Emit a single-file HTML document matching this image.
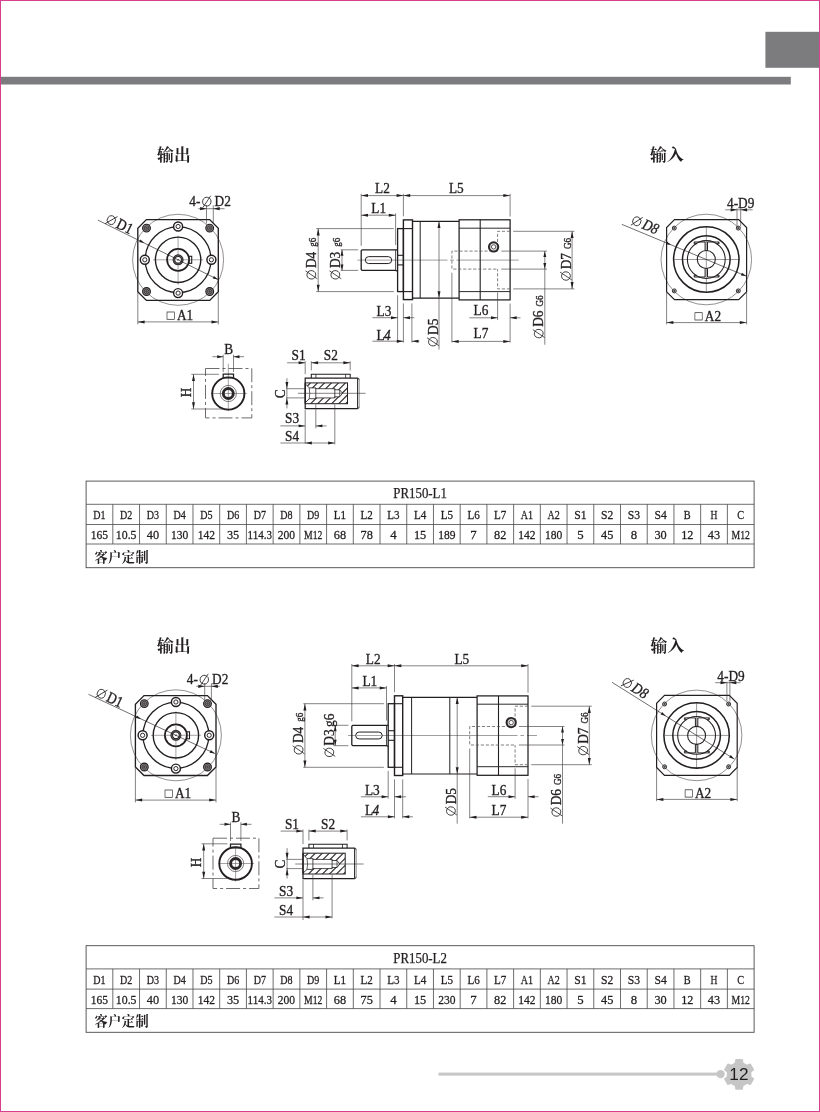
<!DOCTYPE html>
<html><head><meta charset="utf-8"><title>PR150</title>
<style>
html,body{margin:0;padding:0;background:#fff;}
body{width:820px;height:1112px;overflow:hidden;position:relative;font-family:"Liberation Sans",sans-serif;}
#frame{position:absolute;left:0;top:0;width:820px;height:1112px;box-sizing:border-box;border:1px solid #d7408d;}
svg{position:absolute;left:0;top:0;will-change:transform;}
text{white-space:pre;}
</style></head><body>
<svg width="820" height="1112" viewBox="0 0 820 1112">
<rect x="0" y="76.8" width="790.8" height="7.7" fill="#7c7c7f"/>
<rect x="765.4" y="31.8" width="54.6" height="36" fill="#7c7c7f"/>
<rect x="438.5" y="1072.6" width="282" height="3" fill="#c6c6c6"/>
<circle cx="720.6" cy="1074.1" r="4.2" fill="#c6c6c6"/>
<path d="M735.45 1063.08L735.98 1059.63L742.22 1059.63L742.75 1063.08L747 1065.53L750.25 1064.26L753.37 1069.66L750.64 1071.85L750.64 1076.75L753.37 1078.94L750.25 1084.34L747 1083.07L742.75 1085.52L742.22 1088.97L735.98 1088.97L735.45 1085.52L731.2 1083.07L727.95 1084.34L724.83 1078.94L727.56 1076.75L727.56 1071.85L724.83 1069.66L727.95 1064.26L731.2 1065.53Z" fill="#c6c6c6" stroke="#c6c6c6" stroke-width="1.5" stroke-linejoin="round"/>
<text x="738.9" y="1080.3" text-anchor="middle" font-family="Liberation Sans" font-size="17.2" fill="#231f20">12</text>
<rect x="86.1" y="481.1" width="668" height="86.6" fill="none" stroke="#4a4748" stroke-width="0.9"/>
<line x1="86.1" y1="504.3" x2="754.1" y2="504.3" stroke="#4a4748" stroke-width="0.8"/>
<line x1="86.1" y1="524.5" x2="754.1" y2="524.5" stroke="#4a4748" stroke-width="0.8"/>
<line x1="86.1" y1="544" x2="754.1" y2="544" stroke="#4a4748" stroke-width="0.8"/>
<line x1="112.82" y1="504.3" x2="112.82" y2="544" stroke="#4a4748" stroke-width="0.8"/>
<line x1="139.54" y1="504.3" x2="139.54" y2="544" stroke="#4a4748" stroke-width="0.8"/>
<line x1="166.26" y1="504.3" x2="166.26" y2="544" stroke="#4a4748" stroke-width="0.8"/>
<line x1="192.98" y1="504.3" x2="192.98" y2="544" stroke="#4a4748" stroke-width="0.8"/>
<line x1="219.7" y1="504.3" x2="219.7" y2="544" stroke="#4a4748" stroke-width="0.8"/>
<line x1="246.42" y1="504.3" x2="246.42" y2="544" stroke="#4a4748" stroke-width="0.8"/>
<line x1="273.14" y1="504.3" x2="273.14" y2="544" stroke="#4a4748" stroke-width="0.8"/>
<line x1="299.86" y1="504.3" x2="299.86" y2="544" stroke="#4a4748" stroke-width="0.8"/>
<line x1="326.58" y1="504.3" x2="326.58" y2="544" stroke="#4a4748" stroke-width="0.8"/>
<line x1="353.3" y1="504.3" x2="353.3" y2="544" stroke="#4a4748" stroke-width="0.8"/>
<line x1="380.02" y1="504.3" x2="380.02" y2="544" stroke="#4a4748" stroke-width="0.8"/>
<line x1="406.74" y1="504.3" x2="406.74" y2="544" stroke="#4a4748" stroke-width="0.8"/>
<line x1="433.46" y1="504.3" x2="433.46" y2="544" stroke="#4a4748" stroke-width="0.8"/>
<line x1="460.18" y1="504.3" x2="460.18" y2="544" stroke="#4a4748" stroke-width="0.8"/>
<line x1="486.9" y1="504.3" x2="486.9" y2="544" stroke="#4a4748" stroke-width="0.8"/>
<line x1="513.62" y1="504.3" x2="513.62" y2="544" stroke="#4a4748" stroke-width="0.8"/>
<line x1="540.34" y1="504.3" x2="540.34" y2="544" stroke="#4a4748" stroke-width="0.8"/>
<line x1="567.06" y1="504.3" x2="567.06" y2="544" stroke="#4a4748" stroke-width="0.8"/>
<line x1="593.78" y1="504.3" x2="593.78" y2="544" stroke="#4a4748" stroke-width="0.8"/>
<line x1="620.5" y1="504.3" x2="620.5" y2="544" stroke="#4a4748" stroke-width="0.8"/>
<line x1="647.22" y1="504.3" x2="647.22" y2="544" stroke="#4a4748" stroke-width="0.8"/>
<line x1="673.94" y1="504.3" x2="673.94" y2="544" stroke="#4a4748" stroke-width="0.8"/>
<line x1="700.66" y1="504.3" x2="700.66" y2="544" stroke="#4a4748" stroke-width="0.8"/>
<line x1="727.38" y1="504.3" x2="727.38" y2="544" stroke="#4a4748" stroke-width="0.8"/>
<text x="420.1" y="498" text-anchor="middle" font-family="Liberation Serif" font-size="14" textLength="53.6" lengthAdjust="spacingAndGlyphs" fill="#231f20" stroke="#231f20" stroke-width="0.25">PR150-L1</text>
<text x="99.46" y="518.9" text-anchor="middle" font-family="Liberation Serif" font-size="12.8" textLength="12.3" lengthAdjust="spacingAndGlyphs" fill="#231f20" stroke="#231f20" stroke-width="0.28">D1</text>
<text x="99.46" y="539.1" text-anchor="middle" font-family="Liberation Serif" font-size="12.8" textLength="17.3" lengthAdjust="spacingAndGlyphs" fill="#231f20" stroke="#231f20" stroke-width="0.28">165</text>
<text x="126.18" y="518.9" text-anchor="middle" font-family="Liberation Serif" font-size="12.8" textLength="12.3" lengthAdjust="spacingAndGlyphs" fill="#231f20" stroke="#231f20" stroke-width="0.28">D2</text>
<text x="126.18" y="539.1" text-anchor="middle" font-family="Liberation Serif" font-size="12.8" textLength="20.7" lengthAdjust="spacingAndGlyphs" fill="#231f20" stroke="#231f20" stroke-width="0.28">10.5</text>
<text x="152.9" y="518.9" text-anchor="middle" font-family="Liberation Serif" font-size="12.8" textLength="12.3" lengthAdjust="spacingAndGlyphs" fill="#231f20" stroke="#231f20" stroke-width="0.28">D3</text>
<text x="152.9" y="539.1" text-anchor="middle" font-family="Liberation Serif" font-size="12.8" textLength="12.3" lengthAdjust="spacingAndGlyphs" fill="#231f20" stroke="#231f20" stroke-width="0.28">40</text>
<text x="179.62" y="518.9" text-anchor="middle" font-family="Liberation Serif" font-size="12.8" textLength="12.3" lengthAdjust="spacingAndGlyphs" fill="#231f20" stroke="#231f20" stroke-width="0.28">D4</text>
<text x="179.62" y="539.1" text-anchor="middle" font-family="Liberation Serif" font-size="12.8" textLength="17.3" lengthAdjust="spacingAndGlyphs" fill="#231f20" stroke="#231f20" stroke-width="0.28">130</text>
<text x="206.34" y="518.9" text-anchor="middle" font-family="Liberation Serif" font-size="12.8" textLength="12.3" lengthAdjust="spacingAndGlyphs" fill="#231f20" stroke="#231f20" stroke-width="0.28">D5</text>
<text x="206.34" y="539.1" text-anchor="middle" font-family="Liberation Serif" font-size="12.8" textLength="17.3" lengthAdjust="spacingAndGlyphs" fill="#231f20" stroke="#231f20" stroke-width="0.28">142</text>
<text x="233.06" y="518.9" text-anchor="middle" font-family="Liberation Serif" font-size="12.8" textLength="12.3" lengthAdjust="spacingAndGlyphs" fill="#231f20" stroke="#231f20" stroke-width="0.28">D6</text>
<text x="233.06" y="539.1" text-anchor="middle" font-family="Liberation Serif" font-size="12.8" textLength="12.3" lengthAdjust="spacingAndGlyphs" fill="#231f20" stroke="#231f20" stroke-width="0.28">35</text>
<text x="259.78" y="518.9" text-anchor="middle" font-family="Liberation Serif" font-size="12.8" textLength="12.3" lengthAdjust="spacingAndGlyphs" fill="#231f20" stroke="#231f20" stroke-width="0.28">D7</text>
<text x="259.78" y="539.1" text-anchor="middle" font-family="Liberation Serif" font-size="12.8" textLength="24.4" lengthAdjust="spacingAndGlyphs" fill="#231f20" stroke="#231f20" stroke-width="0.28">114.3</text>
<text x="286.5" y="518.9" text-anchor="middle" font-family="Liberation Serif" font-size="12.8" textLength="12.3" lengthAdjust="spacingAndGlyphs" fill="#231f20" stroke="#231f20" stroke-width="0.28">D8</text>
<text x="286.5" y="539.1" text-anchor="middle" font-family="Liberation Serif" font-size="12.8" textLength="17.3" lengthAdjust="spacingAndGlyphs" fill="#231f20" stroke="#231f20" stroke-width="0.28">200</text>
<text x="313.22" y="518.9" text-anchor="middle" font-family="Liberation Serif" font-size="12.8" textLength="12.3" lengthAdjust="spacingAndGlyphs" fill="#231f20" stroke="#231f20" stroke-width="0.28">D9</text>
<text x="313.22" y="539.1" text-anchor="middle" font-family="Liberation Serif" font-size="12.8" textLength="18.4" lengthAdjust="spacingAndGlyphs" fill="#231f20" stroke="#231f20" stroke-width="0.28">M12</text>
<text x="339.94" y="518.9" text-anchor="middle" font-family="Liberation Serif" font-size="12.8" textLength="12.3" lengthAdjust="spacingAndGlyphs" fill="#231f20" stroke="#231f20" stroke-width="0.28">L1</text>
<text x="339.94" y="539.1" text-anchor="middle" font-family="Liberation Serif" font-size="12.8" textLength="12.3" lengthAdjust="spacingAndGlyphs" fill="#231f20" stroke="#231f20" stroke-width="0.28">68</text>
<text x="366.66" y="518.9" text-anchor="middle" font-family="Liberation Serif" font-size="12.8" textLength="12.3" lengthAdjust="spacingAndGlyphs" fill="#231f20" stroke="#231f20" stroke-width="0.28">L2</text>
<text x="366.66" y="539.1" text-anchor="middle" font-family="Liberation Serif" font-size="12.8" textLength="12.3" lengthAdjust="spacingAndGlyphs" fill="#231f20" stroke="#231f20" stroke-width="0.28">78</text>
<text x="393.38" y="518.9" text-anchor="middle" font-family="Liberation Serif" font-size="12.8" textLength="12.3" lengthAdjust="spacingAndGlyphs" fill="#231f20" stroke="#231f20" stroke-width="0.28">L3</text>
<text x="393.38" y="539.1" text-anchor="middle" font-family="Liberation Serif" font-size="12.8" fill="#231f20" stroke="#231f20" stroke-width="0.28">4</text>
<text x="420.1" y="518.9" text-anchor="middle" font-family="Liberation Serif" font-size="12.8" textLength="12.3" lengthAdjust="spacingAndGlyphs" fill="#231f20" stroke="#231f20" stroke-width="0.28">L4</text>
<text x="420.1" y="539.1" text-anchor="middle" font-family="Liberation Serif" font-size="12.8" textLength="12.3" lengthAdjust="spacingAndGlyphs" fill="#231f20" stroke="#231f20" stroke-width="0.28">15</text>
<text x="446.82" y="518.9" text-anchor="middle" font-family="Liberation Serif" font-size="12.8" textLength="12.3" lengthAdjust="spacingAndGlyphs" fill="#231f20" stroke="#231f20" stroke-width="0.28">L5</text>
<text x="446.82" y="539.1" text-anchor="middle" font-family="Liberation Serif" font-size="12.8" textLength="17.3" lengthAdjust="spacingAndGlyphs" fill="#231f20" stroke="#231f20" stroke-width="0.28">189</text>
<text x="473.54" y="518.9" text-anchor="middle" font-family="Liberation Serif" font-size="12.8" textLength="12.3" lengthAdjust="spacingAndGlyphs" fill="#231f20" stroke="#231f20" stroke-width="0.28">L6</text>
<text x="473.54" y="539.1" text-anchor="middle" font-family="Liberation Serif" font-size="12.8" fill="#231f20" stroke="#231f20" stroke-width="0.28">7</text>
<text x="500.26" y="518.9" text-anchor="middle" font-family="Liberation Serif" font-size="12.8" textLength="12.3" lengthAdjust="spacingAndGlyphs" fill="#231f20" stroke="#231f20" stroke-width="0.28">L7</text>
<text x="500.26" y="539.1" text-anchor="middle" font-family="Liberation Serif" font-size="12.8" textLength="12.3" lengthAdjust="spacingAndGlyphs" fill="#231f20" stroke="#231f20" stroke-width="0.28">82</text>
<text x="526.98" y="518.9" text-anchor="middle" font-family="Liberation Serif" font-size="12.8" textLength="12.3" lengthAdjust="spacingAndGlyphs" fill="#231f20" stroke="#231f20" stroke-width="0.28">A1</text>
<text x="526.98" y="539.1" text-anchor="middle" font-family="Liberation Serif" font-size="12.8" textLength="17.3" lengthAdjust="spacingAndGlyphs" fill="#231f20" stroke="#231f20" stroke-width="0.28">142</text>
<text x="553.7" y="518.9" text-anchor="middle" font-family="Liberation Serif" font-size="12.8" textLength="12.3" lengthAdjust="spacingAndGlyphs" fill="#231f20" stroke="#231f20" stroke-width="0.28">A2</text>
<text x="553.7" y="539.1" text-anchor="middle" font-family="Liberation Serif" font-size="12.8" textLength="17.3" lengthAdjust="spacingAndGlyphs" fill="#231f20" stroke="#231f20" stroke-width="0.28">180</text>
<text x="580.42" y="518.9" text-anchor="middle" font-family="Liberation Serif" font-size="12.8" textLength="12.3" lengthAdjust="spacingAndGlyphs" fill="#231f20" stroke="#231f20" stroke-width="0.28">S1</text>
<text x="580.42" y="539.1" text-anchor="middle" font-family="Liberation Serif" font-size="12.8" fill="#231f20" stroke="#231f20" stroke-width="0.28">5</text>
<text x="607.14" y="518.9" text-anchor="middle" font-family="Liberation Serif" font-size="12.8" textLength="12.3" lengthAdjust="spacingAndGlyphs" fill="#231f20" stroke="#231f20" stroke-width="0.28">S2</text>
<text x="607.14" y="539.1" text-anchor="middle" font-family="Liberation Serif" font-size="12.8" textLength="12.3" lengthAdjust="spacingAndGlyphs" fill="#231f20" stroke="#231f20" stroke-width="0.28">45</text>
<text x="633.86" y="518.9" text-anchor="middle" font-family="Liberation Serif" font-size="12.8" textLength="12.3" lengthAdjust="spacingAndGlyphs" fill="#231f20" stroke="#231f20" stroke-width="0.28">S3</text>
<text x="633.86" y="539.1" text-anchor="middle" font-family="Liberation Serif" font-size="12.8" fill="#231f20" stroke="#231f20" stroke-width="0.28">8</text>
<text x="660.58" y="518.9" text-anchor="middle" font-family="Liberation Serif" font-size="12.8" textLength="12.3" lengthAdjust="spacingAndGlyphs" fill="#231f20" stroke="#231f20" stroke-width="0.28">S4</text>
<text x="660.58" y="539.1" text-anchor="middle" font-family="Liberation Serif" font-size="12.8" textLength="12.3" lengthAdjust="spacingAndGlyphs" fill="#231f20" stroke="#231f20" stroke-width="0.28">30</text>
<text x="687.3" y="518.9" text-anchor="middle" font-family="Liberation Serif" font-size="12.8" textLength="6.9" lengthAdjust="spacingAndGlyphs" fill="#231f20" stroke="#231f20" stroke-width="0.28">B</text>
<text x="687.3" y="539.1" text-anchor="middle" font-family="Liberation Serif" font-size="12.8" textLength="12.3" lengthAdjust="spacingAndGlyphs" fill="#231f20" stroke="#231f20" stroke-width="0.28">12</text>
<text x="714.02" y="518.9" text-anchor="middle" font-family="Liberation Serif" font-size="12.8" textLength="6.9" lengthAdjust="spacingAndGlyphs" fill="#231f20" stroke="#231f20" stroke-width="0.28">H</text>
<text x="714.02" y="539.1" text-anchor="middle" font-family="Liberation Serif" font-size="12.8" textLength="12.3" lengthAdjust="spacingAndGlyphs" fill="#231f20" stroke="#231f20" stroke-width="0.28">43</text>
<text x="740.74" y="518.9" text-anchor="middle" font-family="Liberation Serif" font-size="12.8" textLength="6.9" lengthAdjust="spacingAndGlyphs" fill="#231f20" stroke="#231f20" stroke-width="0.28">C</text>
<text x="740.74" y="539.1" text-anchor="middle" font-family="Liberation Serif" font-size="12.8" textLength="18.4" lengthAdjust="spacingAndGlyphs" fill="#231f20" stroke="#231f20" stroke-width="0.28">M12</text>
<text x="94.4" y="561.6" font-family="'Liberation Serif','Noto Serif CJK SC',serif" font-size="13.2" font-weight="bold" letter-spacing="0.5" fill="#231f20">客户定制</text>
<rect x="86.1" y="945.7" width="668" height="86.6" fill="none" stroke="#4a4748" stroke-width="0.9"/>
<line x1="86.1" y1="968.9" x2="754.1" y2="968.9" stroke="#4a4748" stroke-width="0.8"/>
<line x1="86.1" y1="989.1" x2="754.1" y2="989.1" stroke="#4a4748" stroke-width="0.8"/>
<line x1="86.1" y1="1008.6" x2="754.1" y2="1008.6" stroke="#4a4748" stroke-width="0.8"/>
<line x1="112.82" y1="968.9" x2="112.82" y2="1008.6" stroke="#4a4748" stroke-width="0.8"/>
<line x1="139.54" y1="968.9" x2="139.54" y2="1008.6" stroke="#4a4748" stroke-width="0.8"/>
<line x1="166.26" y1="968.9" x2="166.26" y2="1008.6" stroke="#4a4748" stroke-width="0.8"/>
<line x1="192.98" y1="968.9" x2="192.98" y2="1008.6" stroke="#4a4748" stroke-width="0.8"/>
<line x1="219.7" y1="968.9" x2="219.7" y2="1008.6" stroke="#4a4748" stroke-width="0.8"/>
<line x1="246.42" y1="968.9" x2="246.42" y2="1008.6" stroke="#4a4748" stroke-width="0.8"/>
<line x1="273.14" y1="968.9" x2="273.14" y2="1008.6" stroke="#4a4748" stroke-width="0.8"/>
<line x1="299.86" y1="968.9" x2="299.86" y2="1008.6" stroke="#4a4748" stroke-width="0.8"/>
<line x1="326.58" y1="968.9" x2="326.58" y2="1008.6" stroke="#4a4748" stroke-width="0.8"/>
<line x1="353.3" y1="968.9" x2="353.3" y2="1008.6" stroke="#4a4748" stroke-width="0.8"/>
<line x1="380.02" y1="968.9" x2="380.02" y2="1008.6" stroke="#4a4748" stroke-width="0.8"/>
<line x1="406.74" y1="968.9" x2="406.74" y2="1008.6" stroke="#4a4748" stroke-width="0.8"/>
<line x1="433.46" y1="968.9" x2="433.46" y2="1008.6" stroke="#4a4748" stroke-width="0.8"/>
<line x1="460.18" y1="968.9" x2="460.18" y2="1008.6" stroke="#4a4748" stroke-width="0.8"/>
<line x1="486.9" y1="968.9" x2="486.9" y2="1008.6" stroke="#4a4748" stroke-width="0.8"/>
<line x1="513.62" y1="968.9" x2="513.62" y2="1008.6" stroke="#4a4748" stroke-width="0.8"/>
<line x1="540.34" y1="968.9" x2="540.34" y2="1008.6" stroke="#4a4748" stroke-width="0.8"/>
<line x1="567.06" y1="968.9" x2="567.06" y2="1008.6" stroke="#4a4748" stroke-width="0.8"/>
<line x1="593.78" y1="968.9" x2="593.78" y2="1008.6" stroke="#4a4748" stroke-width="0.8"/>
<line x1="620.5" y1="968.9" x2="620.5" y2="1008.6" stroke="#4a4748" stroke-width="0.8"/>
<line x1="647.22" y1="968.9" x2="647.22" y2="1008.6" stroke="#4a4748" stroke-width="0.8"/>
<line x1="673.94" y1="968.9" x2="673.94" y2="1008.6" stroke="#4a4748" stroke-width="0.8"/>
<line x1="700.66" y1="968.9" x2="700.66" y2="1008.6" stroke="#4a4748" stroke-width="0.8"/>
<line x1="727.38" y1="968.9" x2="727.38" y2="1008.6" stroke="#4a4748" stroke-width="0.8"/>
<text x="420.1" y="962.6" text-anchor="middle" font-family="Liberation Serif" font-size="14" textLength="53.6" lengthAdjust="spacingAndGlyphs" fill="#231f20" stroke="#231f20" stroke-width="0.25">PR150-L2</text>
<text x="99.46" y="983.5" text-anchor="middle" font-family="Liberation Serif" font-size="12.8" textLength="12.3" lengthAdjust="spacingAndGlyphs" fill="#231f20" stroke="#231f20" stroke-width="0.28">D1</text>
<text x="99.46" y="1003.7" text-anchor="middle" font-family="Liberation Serif" font-size="12.8" textLength="17.3" lengthAdjust="spacingAndGlyphs" fill="#231f20" stroke="#231f20" stroke-width="0.28">165</text>
<text x="126.18" y="983.5" text-anchor="middle" font-family="Liberation Serif" font-size="12.8" textLength="12.3" lengthAdjust="spacingAndGlyphs" fill="#231f20" stroke="#231f20" stroke-width="0.28">D2</text>
<text x="126.18" y="1003.7" text-anchor="middle" font-family="Liberation Serif" font-size="12.8" textLength="20.7" lengthAdjust="spacingAndGlyphs" fill="#231f20" stroke="#231f20" stroke-width="0.28">10.5</text>
<text x="152.9" y="983.5" text-anchor="middle" font-family="Liberation Serif" font-size="12.8" textLength="12.3" lengthAdjust="spacingAndGlyphs" fill="#231f20" stroke="#231f20" stroke-width="0.28">D3</text>
<text x="152.9" y="1003.7" text-anchor="middle" font-family="Liberation Serif" font-size="12.8" textLength="12.3" lengthAdjust="spacingAndGlyphs" fill="#231f20" stroke="#231f20" stroke-width="0.28">40</text>
<text x="179.62" y="983.5" text-anchor="middle" font-family="Liberation Serif" font-size="12.8" textLength="12.3" lengthAdjust="spacingAndGlyphs" fill="#231f20" stroke="#231f20" stroke-width="0.28">D4</text>
<text x="179.62" y="1003.7" text-anchor="middle" font-family="Liberation Serif" font-size="12.8" textLength="17.3" lengthAdjust="spacingAndGlyphs" fill="#231f20" stroke="#231f20" stroke-width="0.28">130</text>
<text x="206.34" y="983.5" text-anchor="middle" font-family="Liberation Serif" font-size="12.8" textLength="12.3" lengthAdjust="spacingAndGlyphs" fill="#231f20" stroke="#231f20" stroke-width="0.28">D5</text>
<text x="206.34" y="1003.7" text-anchor="middle" font-family="Liberation Serif" font-size="12.8" textLength="17.3" lengthAdjust="spacingAndGlyphs" fill="#231f20" stroke="#231f20" stroke-width="0.28">142</text>
<text x="233.06" y="983.5" text-anchor="middle" font-family="Liberation Serif" font-size="12.8" textLength="12.3" lengthAdjust="spacingAndGlyphs" fill="#231f20" stroke="#231f20" stroke-width="0.28">D6</text>
<text x="233.06" y="1003.7" text-anchor="middle" font-family="Liberation Serif" font-size="12.8" textLength="12.3" lengthAdjust="spacingAndGlyphs" fill="#231f20" stroke="#231f20" stroke-width="0.28">35</text>
<text x="259.78" y="983.5" text-anchor="middle" font-family="Liberation Serif" font-size="12.8" textLength="12.3" lengthAdjust="spacingAndGlyphs" fill="#231f20" stroke="#231f20" stroke-width="0.28">D7</text>
<text x="259.78" y="1003.7" text-anchor="middle" font-family="Liberation Serif" font-size="12.8" textLength="24.4" lengthAdjust="spacingAndGlyphs" fill="#231f20" stroke="#231f20" stroke-width="0.28">114.3</text>
<text x="286.5" y="983.5" text-anchor="middle" font-family="Liberation Serif" font-size="12.8" textLength="12.3" lengthAdjust="spacingAndGlyphs" fill="#231f20" stroke="#231f20" stroke-width="0.28">D8</text>
<text x="286.5" y="1003.7" text-anchor="middle" font-family="Liberation Serif" font-size="12.8" textLength="17.3" lengthAdjust="spacingAndGlyphs" fill="#231f20" stroke="#231f20" stroke-width="0.28">200</text>
<text x="313.22" y="983.5" text-anchor="middle" font-family="Liberation Serif" font-size="12.8" textLength="12.3" lengthAdjust="spacingAndGlyphs" fill="#231f20" stroke="#231f20" stroke-width="0.28">D9</text>
<text x="313.22" y="1003.7" text-anchor="middle" font-family="Liberation Serif" font-size="12.8" textLength="18.4" lengthAdjust="spacingAndGlyphs" fill="#231f20" stroke="#231f20" stroke-width="0.28">M12</text>
<text x="339.94" y="983.5" text-anchor="middle" font-family="Liberation Serif" font-size="12.8" textLength="12.3" lengthAdjust="spacingAndGlyphs" fill="#231f20" stroke="#231f20" stroke-width="0.28">L1</text>
<text x="339.94" y="1003.7" text-anchor="middle" font-family="Liberation Serif" font-size="12.8" textLength="12.3" lengthAdjust="spacingAndGlyphs" fill="#231f20" stroke="#231f20" stroke-width="0.28">68</text>
<text x="366.66" y="983.5" text-anchor="middle" font-family="Liberation Serif" font-size="12.8" textLength="12.3" lengthAdjust="spacingAndGlyphs" fill="#231f20" stroke="#231f20" stroke-width="0.28">L2</text>
<text x="366.66" y="1003.7" text-anchor="middle" font-family="Liberation Serif" font-size="12.8" textLength="12.3" lengthAdjust="spacingAndGlyphs" fill="#231f20" stroke="#231f20" stroke-width="0.28">75</text>
<text x="393.38" y="983.5" text-anchor="middle" font-family="Liberation Serif" font-size="12.8" textLength="12.3" lengthAdjust="spacingAndGlyphs" fill="#231f20" stroke="#231f20" stroke-width="0.28">L3</text>
<text x="393.38" y="1003.7" text-anchor="middle" font-family="Liberation Serif" font-size="12.8" fill="#231f20" stroke="#231f20" stroke-width="0.28">4</text>
<text x="420.1" y="983.5" text-anchor="middle" font-family="Liberation Serif" font-size="12.8" textLength="12.3" lengthAdjust="spacingAndGlyphs" fill="#231f20" stroke="#231f20" stroke-width="0.28">L4</text>
<text x="420.1" y="1003.7" text-anchor="middle" font-family="Liberation Serif" font-size="12.8" textLength="12.3" lengthAdjust="spacingAndGlyphs" fill="#231f20" stroke="#231f20" stroke-width="0.28">15</text>
<text x="446.82" y="983.5" text-anchor="middle" font-family="Liberation Serif" font-size="12.8" textLength="12.3" lengthAdjust="spacingAndGlyphs" fill="#231f20" stroke="#231f20" stroke-width="0.28">L5</text>
<text x="446.82" y="1003.7" text-anchor="middle" font-family="Liberation Serif" font-size="12.8" textLength="17.3" lengthAdjust="spacingAndGlyphs" fill="#231f20" stroke="#231f20" stroke-width="0.28">230</text>
<text x="473.54" y="983.5" text-anchor="middle" font-family="Liberation Serif" font-size="12.8" textLength="12.3" lengthAdjust="spacingAndGlyphs" fill="#231f20" stroke="#231f20" stroke-width="0.28">L6</text>
<text x="473.54" y="1003.7" text-anchor="middle" font-family="Liberation Serif" font-size="12.8" fill="#231f20" stroke="#231f20" stroke-width="0.28">7</text>
<text x="500.26" y="983.5" text-anchor="middle" font-family="Liberation Serif" font-size="12.8" textLength="12.3" lengthAdjust="spacingAndGlyphs" fill="#231f20" stroke="#231f20" stroke-width="0.28">L7</text>
<text x="500.26" y="1003.7" text-anchor="middle" font-family="Liberation Serif" font-size="12.8" textLength="12.3" lengthAdjust="spacingAndGlyphs" fill="#231f20" stroke="#231f20" stroke-width="0.28">82</text>
<text x="526.98" y="983.5" text-anchor="middle" font-family="Liberation Serif" font-size="12.8" textLength="12.3" lengthAdjust="spacingAndGlyphs" fill="#231f20" stroke="#231f20" stroke-width="0.28">A1</text>
<text x="526.98" y="1003.7" text-anchor="middle" font-family="Liberation Serif" font-size="12.8" textLength="17.3" lengthAdjust="spacingAndGlyphs" fill="#231f20" stroke="#231f20" stroke-width="0.28">142</text>
<text x="553.7" y="983.5" text-anchor="middle" font-family="Liberation Serif" font-size="12.8" textLength="12.3" lengthAdjust="spacingAndGlyphs" fill="#231f20" stroke="#231f20" stroke-width="0.28">A2</text>
<text x="553.7" y="1003.7" text-anchor="middle" font-family="Liberation Serif" font-size="12.8" textLength="17.3" lengthAdjust="spacingAndGlyphs" fill="#231f20" stroke="#231f20" stroke-width="0.28">180</text>
<text x="580.42" y="983.5" text-anchor="middle" font-family="Liberation Serif" font-size="12.8" textLength="12.3" lengthAdjust="spacingAndGlyphs" fill="#231f20" stroke="#231f20" stroke-width="0.28">S1</text>
<text x="580.42" y="1003.7" text-anchor="middle" font-family="Liberation Serif" font-size="12.8" fill="#231f20" stroke="#231f20" stroke-width="0.28">5</text>
<text x="607.14" y="983.5" text-anchor="middle" font-family="Liberation Serif" font-size="12.8" textLength="12.3" lengthAdjust="spacingAndGlyphs" fill="#231f20" stroke="#231f20" stroke-width="0.28">S2</text>
<text x="607.14" y="1003.7" text-anchor="middle" font-family="Liberation Serif" font-size="12.8" textLength="12.3" lengthAdjust="spacingAndGlyphs" fill="#231f20" stroke="#231f20" stroke-width="0.28">45</text>
<text x="633.86" y="983.5" text-anchor="middle" font-family="Liberation Serif" font-size="12.8" textLength="12.3" lengthAdjust="spacingAndGlyphs" fill="#231f20" stroke="#231f20" stroke-width="0.28">S3</text>
<text x="633.86" y="1003.7" text-anchor="middle" font-family="Liberation Serif" font-size="12.8" fill="#231f20" stroke="#231f20" stroke-width="0.28">8</text>
<text x="660.58" y="983.5" text-anchor="middle" font-family="Liberation Serif" font-size="12.8" textLength="12.3" lengthAdjust="spacingAndGlyphs" fill="#231f20" stroke="#231f20" stroke-width="0.28">S4</text>
<text x="660.58" y="1003.7" text-anchor="middle" font-family="Liberation Serif" font-size="12.8" textLength="12.3" lengthAdjust="spacingAndGlyphs" fill="#231f20" stroke="#231f20" stroke-width="0.28">30</text>
<text x="687.3" y="983.5" text-anchor="middle" font-family="Liberation Serif" font-size="12.8" textLength="6.9" lengthAdjust="spacingAndGlyphs" fill="#231f20" stroke="#231f20" stroke-width="0.28">B</text>
<text x="687.3" y="1003.7" text-anchor="middle" font-family="Liberation Serif" font-size="12.8" textLength="12.3" lengthAdjust="spacingAndGlyphs" fill="#231f20" stroke="#231f20" stroke-width="0.28">12</text>
<text x="714.02" y="983.5" text-anchor="middle" font-family="Liberation Serif" font-size="12.8" textLength="6.9" lengthAdjust="spacingAndGlyphs" fill="#231f20" stroke="#231f20" stroke-width="0.28">H</text>
<text x="714.02" y="1003.7" text-anchor="middle" font-family="Liberation Serif" font-size="12.8" textLength="12.3" lengthAdjust="spacingAndGlyphs" fill="#231f20" stroke="#231f20" stroke-width="0.28">43</text>
<text x="740.74" y="983.5" text-anchor="middle" font-family="Liberation Serif" font-size="12.8" textLength="6.9" lengthAdjust="spacingAndGlyphs" fill="#231f20" stroke="#231f20" stroke-width="0.28">C</text>
<text x="740.74" y="1003.7" text-anchor="middle" font-family="Liberation Serif" font-size="12.8" textLength="18.4" lengthAdjust="spacingAndGlyphs" fill="#231f20" stroke="#231f20" stroke-width="0.28">M12</text>
<text x="94.4" y="1026.2" font-family="'Liberation Serif','Noto Serif CJK SC',serif" font-size="13.2" font-weight="bold" letter-spacing="0.5" fill="#231f20">客户定制</text>
<text x="157" y="160.6" font-family="'Liberation Serif','Noto Serif CJK SC',serif" font-size="16.8" font-weight="bold" letter-spacing="0.2" fill="#231f20">输出</text>
<text x="157" y="652.2" font-family="'Liberation Serif','Noto Serif CJK SC',serif" font-size="16.8" font-weight="bold" letter-spacing="0.2" fill="#231f20">输出</text>
<text x="650" y="160.6" font-family="'Liberation Serif','Noto Serif CJK SC',serif" font-size="16.8" font-weight="bold" letter-spacing="0.2" fill="#231f20">输入</text>
<text x="650.6" y="652.2" font-family="'Liberation Serif','Noto Serif CJK SC',serif" font-size="16.8" font-weight="bold" letter-spacing="0.2" fill="#231f20">输入</text>
<circle cx="178.1" cy="259.8" r="45.5" fill="none" stroke="#4a4647" stroke-width="0.6"/>
<path d="M146.4 219.6L209.7 219.6L218.3 228.2L218.3 291.8L209.7 300.4L146.4 300.4L137.8 291.8L137.8 228.2Z" fill="none" stroke="#231f20" stroke-width="1.35" />
<line x1="153.1" y1="259.8" x2="203.1" y2="259.8" stroke="#9c999a" stroke-width="0.9"/>
<line x1="178.1" y1="235.8" x2="178.1" y2="284.8" stroke="#9c999a" stroke-width="0.9"/>
<circle cx="178.1" cy="259.8" r="32.9" fill="none" stroke="#231f20" stroke-width="1.3"/>
<circle cx="178.1" cy="259.8" r="22.7" fill="none" stroke="#231f20" stroke-width="1.4"/>
<rect x="188.7" y="256.3" width="3" height="7" fill="none" stroke="#231f20" stroke-width="1.1"/>
<circle cx="178.1" cy="259.8" r="11" fill="#fff" stroke="#231f20" stroke-width="1.75"/>
<line x1="168.1" y1="259.8" x2="188.1" y2="259.8" stroke="#9c999a" stroke-width="0.9"/>
<line x1="178.1" y1="249.8" x2="178.1" y2="269.8" stroke="#9c999a" stroke-width="0.9"/>
<circle cx="178.1" cy="259.8" r="4.15" fill="#fff" stroke="#2b2728" stroke-width="2.7"/>
<circle cx="178.1" cy="259.8" r="4.2" fill="none" stroke="#8a8687" stroke-width="0.5"/>
<line x1="176.9" y1="260.3" x2="179.3" y2="259.3" stroke="#231f20" stroke-width="0.7"/>
<circle cx="178.1" cy="226.5" r="4.5" fill="#fff" stroke="#231f20" stroke-width="1.45"/>
<circle cx="178.1" cy="226.5" r="2.1" fill="#fff" stroke="#231f20" stroke-width="0.95"/>
<circle cx="178.1" cy="293.1" r="4.5" fill="#fff" stroke="#231f20" stroke-width="1.45"/>
<circle cx="178.1" cy="293.1" r="2.1" fill="#fff" stroke="#231f20" stroke-width="0.95"/>
<circle cx="144.8" cy="259.8" r="4.5" fill="#fff" stroke="#231f20" stroke-width="1.45"/>
<circle cx="144.8" cy="259.8" r="2.1" fill="#fff" stroke="#231f20" stroke-width="0.95"/>
<circle cx="211.4" cy="259.8" r="4.5" fill="#fff" stroke="#231f20" stroke-width="1.45"/>
<circle cx="211.4" cy="259.8" r="2.1" fill="#fff" stroke="#231f20" stroke-width="0.95"/>
<circle cx="146.5" cy="228.1" r="3.9" fill="#8a8687" stroke="#231f20" stroke-width="1.1"/>
<circle cx="146.5" cy="228.1" r="2.3" fill="none" stroke="#3a3637" stroke-width="0.9"/>
<circle cx="146.5" cy="228.1" r="0.9" fill="#5a5657" stroke="#3a3637" stroke-width="0.6"/>
<circle cx="146.5" cy="291.5" r="3.9" fill="#8a8687" stroke="#231f20" stroke-width="1.1"/>
<circle cx="146.5" cy="291.5" r="2.3" fill="none" stroke="#3a3637" stroke-width="0.9"/>
<circle cx="146.5" cy="291.5" r="0.9" fill="#5a5657" stroke="#3a3637" stroke-width="0.6"/>
<circle cx="209.7" cy="228.1" r="3.9" fill="#8a8687" stroke="#231f20" stroke-width="1.1"/>
<circle cx="209.7" cy="228.1" r="2.3" fill="none" stroke="#3a3637" stroke-width="0.9"/>
<circle cx="209.7" cy="228.1" r="0.9" fill="#5a5657" stroke="#3a3637" stroke-width="0.6"/>
<circle cx="209.7" cy="291.5" r="3.9" fill="#8a8687" stroke="#231f20" stroke-width="1.1"/>
<circle cx="209.7" cy="291.5" r="2.3" fill="none" stroke="#3a3637" stroke-width="0.9"/>
<circle cx="209.7" cy="291.5" r="0.9" fill="#5a5657" stroke="#3a3637" stroke-width="0.6"/>
<line x1="97.8" y1="220.05" x2="218" y2="279.55" stroke="#231f20" stroke-width="0.65"/>
<path d="M144.4 243.12L139.12 242.07L140.36 239.56Z" fill="#231f20"/>
<path d="M218 279.55L212.72 278.5L213.96 275.99Z" fill="#231f20"/>
<g id="o1_D1" transform="translate(104.6 222) rotate(26.3) scale(0.86 1)">
<ellipse cx="6.04" cy="-4.67" rx="4.84" ry="4.37" fill="none" stroke="#231f20" stroke-width="0.85" transform="rotate(14 6.04 -4.67)"/>
<line x1="1.44" y1="1.22" x2="10.64" y2="-10.56" stroke="#231f20" stroke-width="0.85"/>
<text x="13.9" y="0" font-family="Liberation Serif" font-size="15.5" fill="#231f20" stroke="#231f20" stroke-width="0.34">D1</text>
</g>
<line x1="206.5" y1="205.4" x2="206.5" y2="223.5" stroke="#3a3637" stroke-width="0.62"/>
<line x1="213.3" y1="205.4" x2="213.3" y2="223.5" stroke="#3a3637" stroke-width="0.62"/>
<line x1="198.3" y1="208.7" x2="224.6" y2="208.7" stroke="#3a3637" stroke-width="0.62"/>
<path d="M206.5 208.7L200.1 210.3L200.1 207.1Z" fill="#231f20"/>
<path d="M213.3 208.7L219.7 207.1L219.7 210.3Z" fill="#231f20"/>
<g id="o1_D2" transform="translate(189.3 206.3) rotate(0) scale(0.86 1)">
<text x="0" y="0" font-family="Liberation Serif" font-size="15.5" fill="#231f20" stroke="#231f20" stroke-width="0.34">4-</text>
<ellipse cx="20.35" cy="-4.67" rx="4.84" ry="4.37" fill="none" stroke="#231f20" stroke-width="0.85" transform="rotate(14 20.35 -4.67)"/>
<line x1="15.75" y1="1.22" x2="24.95" y2="-10.56" stroke="#231f20" stroke-width="0.85"/>
<text x="29.37" y="0" font-family="Liberation Serif" font-size="15.5" fill="#231f20" stroke="#231f20" stroke-width="0.34">D2</text>
</g>
<line x1="137.8" y1="292.4" x2="137.8" y2="324.4" stroke="#3a3637" stroke-width="0.62"/>
<line x1="218.3" y1="292.4" x2="218.3" y2="324.4" stroke="#3a3637" stroke-width="0.62"/>
<line x1="137.8" y1="321.9" x2="218.3" y2="321.9" stroke="#3a3637" stroke-width="0.62"/>
<path d="M137.8 321.9L144.6 320.4L144.6 323.4Z" fill="#231f20"/>
<path d="M218.3 321.9L211.5 323.4L211.5 320.4Z" fill="#231f20"/>
<g id="o1_A1" transform="translate(167 320.1) rotate(0) scale(0.86 1)">
<rect x="0" y="-8.1" width="8.49" height="7.3" fill="none" stroke="#231f20" stroke-width="0.7"/>
<text x="11.51" y="0" font-family="Liberation Serif" font-size="15.5" fill="#231f20" stroke="#231f20" stroke-width="0.34">A1</text>
</g>
<line x1="357.5" y1="260.1" x2="518.7" y2="260.1" stroke="#8f8c8d" stroke-width="0.85" stroke-dasharray="90 2.5 4 2.5"/>
<path d="M397.6 249.8L362.1 249.8L361.2 250.7L361.2 269.5L362.1 270.4L395.6 270.4L397.6 271.2" fill="none" stroke="#231f20" stroke-width="1.3" />
<line x1="395.6" y1="249.8" x2="395.6" y2="270.4" stroke="#231f20" stroke-width="0.8"/>
<path d="M368.75 256.65L388.25 256.65A3.45 3.45 0 0 1 388.25 263.55L368.75 263.55A3.45 3.45 0 0 1 368.75 256.65Z" fill="#fff" stroke="#231f20" stroke-width="1.0" />
<line x1="366.3" y1="260.1" x2="390.7" y2="260.1" stroke="#4a4647" stroke-width="0.5"/>
<rect x="397.6" y="228.6" width="5.8" height="63" fill="none" stroke="#231f20" stroke-width="1.3"/>
<line x1="397.6" y1="255.3" x2="403.4" y2="255.3" stroke="#231f20" stroke-width="1.1"/>
<line x1="397.6" y1="264.9" x2="403.4" y2="264.9" stroke="#231f20" stroke-width="1.1"/>
<rect x="403.4" y="219.9" width="9.1" height="79.7" fill="none" stroke="#231f20" stroke-width="1.4"/>
<line x1="403.4" y1="228.6" x2="412.5" y2="228.6" stroke="#231f20" stroke-width="1.1"/>
<line x1="403.4" y1="291.6" x2="412.5" y2="291.6" stroke="#231f20" stroke-width="1.1"/>
<path d="M412.5 221.3L459.1 221.3M412.5 298.1L459.1 298.1" fill="none" stroke="#231f20" stroke-width="1.15" />
<line x1="420.2" y1="221.3" x2="420.2" y2="298.1" stroke="#231f20" stroke-width="1.0"/>
<rect x="459.1" y="219.8" width="51" height="80.1" fill="none" stroke="#231f20" stroke-width="1.25"/>
<line x1="480.2" y1="219.8" x2="480.2" y2="299.9" stroke="#231f20" stroke-width="1.1"/>
<line x1="459.1" y1="228.2" x2="510.1" y2="228.2" stroke="#231f20" stroke-width="0.95"/>
<line x1="459.1" y1="291.6" x2="510.1" y2="291.6" stroke="#231f20" stroke-width="0.95"/>
<path d="M510.1 231.3L497.6 231.3L497.6 251.1" fill="none" stroke="#5a5657" stroke-width="0.75" stroke-dasharray="3.2 1.8"/>
<path d="M510.1 288.9L497.6 288.9L497.6 269.1" fill="none" stroke="#5a5657" stroke-width="0.75" stroke-dasharray="3.2 1.8"/>
<path d="M497.6 251.1L451.9 251.1L451.9 269.1L497.6 269.1" fill="none" stroke="#5a5657" stroke-width="0.75" stroke-dasharray="3.2 1.8"/>
<circle cx="493.6" cy="246.9" r="4.5" fill="#fff" stroke="#2b2728" stroke-width="2.3"/>
<circle cx="493.6" cy="246.9" r="3.45" fill="none" stroke="#d8d6d7" stroke-width="0.45"/>
<circle cx="493.6" cy="246.9" r="2.2" fill="none" stroke="#2b2728" stroke-width="0.8"/>
<line x1="361.2" y1="193.8" x2="361.2" y2="245.8" stroke="#3a3637" stroke-width="0.62"/>
<line x1="403.4" y1="193.8" x2="403.4" y2="216.3" stroke="#3a3637" stroke-width="0.62"/>
<line x1="510.1" y1="193.8" x2="510.1" y2="216.5" stroke="#3a3637" stroke-width="0.62"/>
<line x1="361.2" y1="195.6" x2="403.4" y2="195.6" stroke="#3a3637" stroke-width="0.62"/>
<path d="M361.2 195.6L368 194.1L368 197.1Z" fill="#231f20"/>
<path d="M403.4 195.6L396.6 197.1L396.6 194.1Z" fill="#231f20"/>
<line x1="403.4" y1="195.6" x2="510.1" y2="195.6" stroke="#3a3637" stroke-width="0.62"/>
<path d="M403.4 195.6L410.2 194.1L410.2 197.1Z" fill="#231f20"/>
<path d="M510.1 195.6L503.3 197.1L503.3 194.1Z" fill="#231f20"/>
<g id="s1_L2" transform="translate(375 193) rotate(0) scale(0.86 1)">
<text x="0" y="0" font-family="Liberation Serif" font-size="15.5" fill="#231f20" stroke="#231f20" stroke-width="0.34">L2</text>
</g>
<g id="s1_L5" transform="translate(448.9 193.4) rotate(0) scale(0.86 1)">
<text x="0" y="0" font-family="Liberation Serif" font-size="15.5" fill="#231f20" stroke="#231f20" stroke-width="0.34">L5</text>
</g>
<line x1="395.6" y1="213.4" x2="395.6" y2="245" stroke="#3a3637" stroke-width="0.62"/>
<line x1="361.2" y1="215.2" x2="395.6" y2="215.2" stroke="#3a3637" stroke-width="0.62"/>
<path d="M361.2 215.2L368 213.7L368 216.7Z" fill="#231f20"/>
<path d="M395.6 215.2L388.8 216.7L388.8 213.7Z" fill="#231f20"/>
<g id="s1_L1" transform="translate(371.3 212.7) rotate(0) scale(0.86 1)">
<text x="0" y="0" font-family="Liberation Serif" font-size="15.5" fill="#231f20" stroke="#231f20" stroke-width="0.34">L1</text>
</g>
<line x1="397.6" y1="295.2" x2="397.6" y2="342.6" stroke="#3a3637" stroke-width="0.62"/>
<line x1="403.4" y1="303.4" x2="403.4" y2="342.6" stroke="#3a3637" stroke-width="0.62"/>
<line x1="411.9" y1="303.4" x2="411.9" y2="342.6" stroke="#3a3637" stroke-width="0.62"/>
<line x1="372.4" y1="317.7" x2="397.6" y2="317.7" stroke="#3a3637" stroke-width="0.62"/>
<path d="M397.6 317.7L391 319.15L391 316.25Z" fill="#231f20"/>
<line x1="403.4" y1="317.7" x2="414.3" y2="317.7" stroke="#3a3637" stroke-width="0.62"/>
<path d="M403.4 317.7L410 316.25L410 319.15Z" fill="#231f20"/>
<line x1="372.4" y1="341.2" x2="403.4" y2="341.2" stroke="#3a3637" stroke-width="0.62"/>
<path d="M403.4 341.2L396.8 342.65L396.8 339.75Z" fill="#231f20"/>
<line x1="411.9" y1="341.2" x2="419.4" y2="341.2" stroke="#3a3637" stroke-width="0.62"/>
<path d="M411.9 341.2L418.5 339.75L418.5 342.65Z" fill="#231f20"/>
<g id="s1_L3" transform="translate(376.5 315.5) rotate(0) scale(0.86 1)">
<text x="0" y="0" font-family="Liberation Serif" font-size="15.5" fill="#231f20" stroke="#231f20" stroke-width="0.34">L3</text>
</g>
<g id="s1_L4" transform="translate(376.5 339.6) rotate(0) scale(0.86 1)">
<text x="0" y="0" font-family="Liberation Serif" font-size="15.5" fill="#231f20" stroke="#231f20" stroke-width="0.34">L</text>
<text x="8.77" y="0" font-family="Liberation Serif" font-size="15.5" fill="#231f20" stroke="#231f20" stroke-width="0.34"><tspan font-style="italic">4</tspan></text>
</g>
<line x1="439" y1="221.3" x2="439" y2="349.5" stroke="#3a3637" stroke-width="0.62"/>
<path d="M439 221.3L440.5 228.1L437.5 228.1Z" fill="#231f20"/>
<path d="M439 298.1L437.5 291.3L440.5 291.3Z" fill="#231f20"/>
<g id="s1_D5" transform="translate(437.6 346.9) rotate(-90) scale(0.86 1)">
<ellipse cx="6.04" cy="-4.67" rx="4.84" ry="4.37" fill="none" stroke="#231f20" stroke-width="0.85" transform="rotate(14 6.04 -4.67)"/>
<line x1="1.44" y1="1.22" x2="10.64" y2="-10.56" stroke="#231f20" stroke-width="0.85"/>
<text x="13.9" y="0" font-family="Liberation Serif" font-size="15.5" fill="#231f20" stroke="#231f20" stroke-width="0.34">D5</text>
</g>
<line x1="316.2" y1="228.6" x2="393.8" y2="228.6" stroke="#3a3637" stroke-width="0.62"/>
<line x1="316.2" y1="291.6" x2="393.8" y2="291.6" stroke="#3a3637" stroke-width="0.62"/>
<line x1="318.2" y1="228.6" x2="318.2" y2="291.6" stroke="#3a3637" stroke-width="0.62"/>
<path d="M318.2 228.6L319.7 235.4L316.7 235.4Z" fill="#231f20"/>
<path d="M318.2 291.6L316.7 284.8L319.7 284.8Z" fill="#231f20"/>
<g id="s1_D4" transform="translate(316 280) rotate(-90) scale(0.86 1)">
<ellipse cx="6.04" cy="-4.67" rx="4.84" ry="4.37" fill="none" stroke="#231f20" stroke-width="0.85" transform="rotate(14 6.04 -4.67)"/>
<line x1="1.44" y1="1.22" x2="10.64" y2="-10.56" stroke="#231f20" stroke-width="0.85"/>
<text x="13.9" y="0" font-family="Liberation Serif" font-size="15.5" fill="#231f20" stroke="#231f20" stroke-width="0.34">D4</text>
<text x="38.66" y="0" font-family="Liberation Serif" font-size="10.54" fill="#231f20" stroke="#231f20" stroke-width="0.34">g6</text>
</g>
<line x1="340.7" y1="249.8" x2="358.2" y2="249.8" stroke="#3a3637" stroke-width="0.62"/>
<line x1="340.7" y1="270.4" x2="358.2" y2="270.4" stroke="#3a3637" stroke-width="0.62"/>
<line x1="342" y1="249.8" x2="342" y2="270.4" stroke="#3a3637" stroke-width="0.62"/>
<path d="M342 249.8L343.45 255.8L340.55 255.8Z" fill="#231f20"/>
<path d="M342 270.4L340.55 264.4L343.45 264.4Z" fill="#231f20"/>
<g id="s1_D3" transform="translate(340 280) rotate(-90) scale(0.86 1)">
<ellipse cx="6.04" cy="-4.67" rx="4.84" ry="4.37" fill="none" stroke="#231f20" stroke-width="0.85" transform="rotate(14 6.04 -4.67)"/>
<line x1="1.44" y1="1.22" x2="10.64" y2="-10.56" stroke="#231f20" stroke-width="0.85"/>
<text x="13.9" y="0" font-family="Liberation Serif" font-size="15.5" fill="#231f20" stroke="#231f20" stroke-width="0.34">D3</text>
<text x="38.66" y="0" font-family="Liberation Serif" font-size="10.54" fill="#231f20" stroke="#231f20" stroke-width="0.34">g6</text>
</g>
<line x1="513.2" y1="231.3" x2="574.4" y2="231.3" stroke="#3a3637" stroke-width="0.62"/>
<line x1="513.2" y1="288.9" x2="574.4" y2="288.9" stroke="#3a3637" stroke-width="0.62"/>
<line x1="572.1" y1="231.3" x2="572.1" y2="288.9" stroke="#3a3637" stroke-width="0.62"/>
<path d="M572.1 231.3L573.6 238.1L570.6 238.1Z" fill="#231f20"/>
<path d="M572.1 288.9L570.6 282.1L573.6 282.1Z" fill="#231f20"/>
<g id="s1_D7" transform="translate(570.6 281.2) rotate(-90) scale(0.86 1)">
<ellipse cx="6.04" cy="-4.67" rx="4.84" ry="4.37" fill="none" stroke="#231f20" stroke-width="0.85" transform="rotate(14 6.04 -4.67)"/>
<line x1="1.44" y1="1.22" x2="10.64" y2="-10.56" stroke="#231f20" stroke-width="0.85"/>
<text x="13.9" y="0" font-family="Liberation Serif" font-size="15.5" fill="#231f20" stroke="#231f20" stroke-width="0.34">D7</text>
<text x="37.5" y="0" font-family="Liberation Serif" font-size="10.54" fill="#231f20" stroke="#231f20" stroke-width="0.34">G6</text>
</g>
<line x1="501.3" y1="251.1" x2="547" y2="251.1" stroke="#3a3637" stroke-width="0.62"/>
<line x1="501.3" y1="269.1" x2="547" y2="269.1" stroke="#3a3637" stroke-width="0.62"/>
<line x1="544.8" y1="251.1" x2="544.8" y2="344.7" stroke="#3a3637" stroke-width="0.62"/>
<path d="M544.8 251.1L546.25 257.1L543.35 257.1Z" fill="#231f20"/>
<path d="M544.8 269.1L543.35 263.1L546.25 263.1Z" fill="#231f20"/>
<g id="s1_D6" transform="translate(543.4 338.8) rotate(-90) scale(0.86 1)">
<ellipse cx="6.04" cy="-4.67" rx="4.84" ry="4.37" fill="none" stroke="#231f20" stroke-width="0.85" transform="rotate(14 6.04 -4.67)"/>
<line x1="1.44" y1="1.22" x2="10.64" y2="-10.56" stroke="#231f20" stroke-width="0.85"/>
<text x="13.9" y="0" font-family="Liberation Serif" font-size="15.5" fill="#231f20" stroke="#231f20" stroke-width="0.34">D6</text>
<text x="37.5" y="0" font-family="Liberation Serif" font-size="10.54" fill="#231f20" stroke="#231f20" stroke-width="0.34">G6</text>
</g>
<line x1="497.6" y1="292.5" x2="497.6" y2="320" stroke="#3a3637" stroke-width="0.62"/>
<line x1="510.1" y1="303.5" x2="510.1" y2="342.6" stroke="#3a3637" stroke-width="0.62"/>
<line x1="469.3" y1="317.8" x2="497.6" y2="317.8" stroke="#3a3637" stroke-width="0.62"/>
<path d="M497.6 317.8L491 319.25L491 316.35Z" fill="#231f20"/>
<line x1="510.1" y1="317.8" x2="520.5" y2="317.8" stroke="#3a3637" stroke-width="0.62"/>
<path d="M510.1 317.8L516.7 316.35L516.7 319.25Z" fill="#231f20"/>
<g id="s1_L6" transform="translate(473.6 315.4) rotate(0) scale(0.86 1)">
<text x="0" y="0" font-family="Liberation Serif" font-size="15.5" fill="#231f20" stroke="#231f20" stroke-width="0.34">L6</text>
</g>
<line x1="451.9" y1="272.7" x2="451.9" y2="342.6" stroke="#3a3637" stroke-width="0.62"/>
<line x1="451.9" y1="341.4" x2="510.1" y2="341.4" stroke="#3a3637" stroke-width="0.62"/>
<path d="M451.9 341.4L458.7 339.9L458.7 342.9Z" fill="#231f20"/>
<path d="M510.1 341.4L503.3 342.9L503.3 339.9Z" fill="#231f20"/>
<g id="s1_L7" transform="translate(473.6 338.4) rotate(0) scale(0.86 1)">
<text x="0" y="0" font-family="Liberation Serif" font-size="15.5" fill="#231f20" stroke="#231f20" stroke-width="0.34">L7</text>
</g>
<circle cx="706.3" cy="259.5" r="45.3" fill="none" stroke="#4a4647" stroke-width="0.6"/>
<path d="M674.5 219.6L738.7 219.6L746.6 227.5L746.6 291.8L738.7 299.7L674.5 299.7L666.6 291.8L666.6 227.5Z" fill="none" stroke="#231f20" stroke-width="1.2" />
<line x1="674.3" y1="259.5" x2="739.3" y2="259.5" stroke="#6e6b6c" stroke-width="0.7"/>
<line x1="706.3" y1="227" x2="706.3" y2="293" stroke="#6e6b6c" stroke-width="0.7"/>
<circle cx="706.3" cy="259.5" r="32.7" fill="none" stroke="#231f20" stroke-width="1.55"/>
<circle cx="706.3" cy="259.5" r="23.8" fill="none" stroke="#231f20" stroke-width="1.5"/>
<circle cx="706.3" cy="259.5" r="18.9" fill="none" stroke="#231f20" stroke-width="1.05"/>
<line x1="694.1" y1="242" x2="705.1" y2="242" stroke="#231f20" stroke-width="0.95"/>
<line x1="707.5" y1="242" x2="719.1" y2="242" stroke="#231f20" stroke-width="0.95"/>
<path d="M694.1 242L696.5 243.9L694.1 243.9Z" fill="#6a6667" stroke="#231f20" stroke-width="0.7" />
<path d="M719.1 242L716.7 243.9L719.1 243.9Z" fill="#6a6667" stroke="#231f20" stroke-width="0.7" />
<line x1="705.1" y1="242" x2="705.1" y2="250.6" stroke="#231f20" stroke-width="1.0"/>
<line x1="707.5" y1="242" x2="707.5" y2="250.6" stroke="#231f20" stroke-width="1.0"/>
<line x1="694.1" y1="277" x2="705.1" y2="277" stroke="#231f20" stroke-width="0.95"/>
<line x1="707.5" y1="277" x2="719.1" y2="277" stroke="#231f20" stroke-width="0.95"/>
<path d="M694.1 277L696.5 275.1L694.1 275.1Z" fill="#6a6667" stroke="#231f20" stroke-width="0.7" />
<path d="M719.1 277L716.7 275.1L719.1 275.1Z" fill="#6a6667" stroke="#231f20" stroke-width="0.7" />
<line x1="705.1" y1="277" x2="705.1" y2="268.4" stroke="#231f20" stroke-width="1.0"/>
<line x1="707.5" y1="277" x2="707.5" y2="268.4" stroke="#231f20" stroke-width="1.0"/>
<circle cx="706.3" cy="259.5" r="9" fill="none" stroke="#231f20" stroke-width="1.1"/>
<circle cx="674.3" cy="228.1" r="2" fill="#c9c6c7" stroke="#231f20" stroke-width="0.9"/>
<circle cx="674.3" cy="228.1" r="0.8" fill="#3a3637" stroke="#3a3637" stroke-width="0.5"/>
<circle cx="674.3" cy="290.9" r="2" fill="#c9c6c7" stroke="#231f20" stroke-width="0.9"/>
<circle cx="674.3" cy="290.9" r="0.8" fill="#3a3637" stroke="#3a3637" stroke-width="0.5"/>
<circle cx="738.3" cy="228.1" r="2" fill="#c9c6c7" stroke="#231f20" stroke-width="0.9"/>
<circle cx="738.3" cy="228.1" r="0.8" fill="#3a3637" stroke="#3a3637" stroke-width="0.5"/>
<circle cx="738.3" cy="290.9" r="2" fill="#c9c6c7" stroke="#231f20" stroke-width="0.9"/>
<circle cx="738.3" cy="290.9" r="0.8" fill="#3a3637" stroke="#3a3637" stroke-width="0.5"/>
<line x1="621.8" y1="224.35" x2="746.2" y2="276.1" stroke="#231f20" stroke-width="0.65"/>
<path d="M671.2 244.9L665.86 244.19L666.94 241.61Z" fill="#231f20"/>
<path d="M746.2 276.1L740.86 275.39L741.94 272.81Z" fill="#231f20"/>
<g id="i1_D8" transform="translate(630.2 223.6) rotate(22.6) scale(0.86 1)">
<ellipse cx="6.04" cy="-4.67" rx="4.84" ry="4.37" fill="none" stroke="#231f20" stroke-width="0.85" transform="rotate(14 6.04 -4.67)"/>
<line x1="1.44" y1="1.22" x2="10.64" y2="-10.56" stroke="#231f20" stroke-width="0.85"/>
<text x="13.9" y="0" font-family="Liberation Serif" font-size="15.5" font-style="italic" fill="#231f20" stroke="#231f20" stroke-width="0.34">D8</text>
</g>
<line x1="737" y1="208.3" x2="737" y2="226.6" stroke="#3a3637" stroke-width="0.62"/>
<line x1="740.7" y1="208.3" x2="740.7" y2="226.6" stroke="#3a3637" stroke-width="0.62"/>
<line x1="725.2" y1="209.8" x2="752.6" y2="209.8" stroke="#3a3637" stroke-width="0.62"/>
<path d="M737 209.8L730.6 211.4L730.6 208.2Z" fill="#231f20"/>
<path d="M740.7 209.8L747.1 208.2L747.1 211.4Z" fill="#231f20"/>
<g id="i1_D9" transform="translate(727 208) rotate(0) scale(0.86 1)">
<text x="0" y="0" font-family="Liberation Serif" font-size="15.5" fill="#231f20" stroke="#231f20" stroke-width="0.34">4-D9</text>
</g>
<line x1="666.6" y1="291.7" x2="666.6" y2="324.4" stroke="#3a3637" stroke-width="0.62"/>
<line x1="746.6" y1="291.7" x2="746.6" y2="324.4" stroke="#3a3637" stroke-width="0.62"/>
<line x1="666.6" y1="322.6" x2="746.6" y2="322.6" stroke="#3a3637" stroke-width="0.62"/>
<path d="M666.6 322.6L673.4 321.1L673.4 324.1Z" fill="#231f20"/>
<path d="M746.6 322.6L739.8 324.1L739.8 321.1Z" fill="#231f20"/>
<g id="i1_A2" transform="translate(694.9 320.8) rotate(0) scale(0.86 1)">
<rect x="0" y="-8.1" width="8.49" height="7.3" fill="none" stroke="#231f20" stroke-width="0.7"/>
<text x="11.51" y="0" font-family="Liberation Serif" font-size="15.5" fill="#231f20" stroke="#231f20" stroke-width="0.34">A2</text>
</g>
<rect x="205.5" y="368.5" width="46.3" height="49.4" fill="none" stroke="#4a4647" stroke-width="0.8" stroke-dasharray="14 3 3 3"/>
<line x1="211.3" y1="393.5" x2="246.8" y2="393.5" stroke="#4a4647" stroke-width="0.5"/>
<line x1="228.3" y1="363.7" x2="228.3" y2="411.2" stroke="#4a4647" stroke-width="0.5"/>
<circle cx="228.3" cy="393.5" r="16.1" fill="none" stroke="#231f20" stroke-width="1.9"/>
<path d="M223.2 379.1L223.2 374L233.5 374L233.5 379.1" fill="none" stroke="#231f20" stroke-width="1.25" />
<line x1="223.2" y1="378.3" x2="233.5" y2="378.3" stroke="#4a4647" stroke-width="0.6"/>
<circle cx="228.3" cy="393.5" r="8.1" fill="none" stroke="#3a3637" stroke-width="0.65"/>
<circle cx="228.3" cy="393.5" r="5" fill="none" stroke="#2b2728" stroke-width="2.9"/>
<circle cx="228.3" cy="393.5" r="0.6" fill="#8a8687" stroke="#8a8687" stroke-width="0.4"/>
<line x1="223.2" y1="354.7" x2="223.2" y2="372" stroke="#3a3637" stroke-width="0.62"/>
<line x1="233.5" y1="354.7" x2="233.5" y2="372" stroke="#3a3637" stroke-width="0.62"/>
<line x1="212.4" y1="356.7" x2="223.2" y2="356.7" stroke="#3a3637" stroke-width="0.62"/>
<path d="M223.2 356.7L217.2 358.15L217.2 355.25Z" fill="#231f20"/>
<line x1="233.5" y1="356.7" x2="244.1" y2="356.7" stroke="#3a3637" stroke-width="0.62"/>
<path d="M233.5 356.7L239.5 355.25L239.5 358.15Z" fill="#231f20"/>
<g id="k1_B" transform="translate(224.2 354.2) rotate(0) scale(0.86 1)">
<text x="0" y="0" font-family="Liberation Serif" font-size="15.5" fill="#231f20" stroke="#231f20" stroke-width="0.34">B</text>
</g>
<line x1="191.3" y1="374.3" x2="218.9" y2="374.3" stroke="#3a3637" stroke-width="0.62"/>
<line x1="191.3" y1="409" x2="227.4" y2="409" stroke="#3a3637" stroke-width="0.62"/>
<line x1="193.5" y1="374.3" x2="193.5" y2="409" stroke="#3a3637" stroke-width="0.62"/>
<path d="M193.5 374.3L195 381.1L192 381.1Z" fill="#231f20"/>
<path d="M193.5 409L192 402.2L195 402.2Z" fill="#231f20"/>
<g id="k1_H" transform="translate(190.9 397.3) rotate(-90) scale(0.86 1)">
<text x="0" y="0" font-family="Liberation Serif" font-size="15.5" fill="#231f20" stroke="#231f20" stroke-width="0.34">H</text>
</g>
<defs><clipPath id="clipe1"><path d="M305.2 382.9L347.5 382.9L347.5 403.7L305.2 403.7Z"/></clipPath></defs>
<g clip-path="url(#clipe1)">
<line x1="274.7" y1="404.7" x2="297.5" y2="381.9" stroke="#2f2b2c" stroke-width="1.15"/>
<line x1="281.7" y1="404.7" x2="304.5" y2="381.9" stroke="#2f2b2c" stroke-width="1.15"/>
<line x1="288.7" y1="404.7" x2="311.5" y2="381.9" stroke="#2f2b2c" stroke-width="1.15"/>
<line x1="295.7" y1="404.7" x2="318.5" y2="381.9" stroke="#2f2b2c" stroke-width="1.15"/>
<line x1="302.7" y1="404.7" x2="325.5" y2="381.9" stroke="#2f2b2c" stroke-width="1.15"/>
<line x1="309.7" y1="404.7" x2="332.5" y2="381.9" stroke="#2f2b2c" stroke-width="1.15"/>
<line x1="316.7" y1="404.7" x2="339.5" y2="381.9" stroke="#2f2b2c" stroke-width="1.15"/>
<line x1="323.7" y1="404.7" x2="346.5" y2="381.9" stroke="#2f2b2c" stroke-width="1.15"/>
<line x1="330.7" y1="404.7" x2="353.5" y2="381.9" stroke="#2f2b2c" stroke-width="1.15"/>
<line x1="337.7" y1="404.7" x2="360.5" y2="381.9" stroke="#2f2b2c" stroke-width="1.15"/>
<line x1="344.7" y1="404.7" x2="367.5" y2="381.9" stroke="#2f2b2c" stroke-width="1.15"/>
<line x1="351.7" y1="404.7" x2="374.5" y2="381.9" stroke="#2f2b2c" stroke-width="1.15"/>
</g>
<path d="M305.2 383.7L309.2 387.9L315.8 387.9L315.8 388.7L334.8 388.7L334.8 389.8L339.7 389.8L342.5 393.3L339.7 396.8L334.8 396.8L334.8 397.9L315.8 397.9L315.8 398.7L309.2 398.7L305.2 402.9Z" fill="#fff" stroke="#231f20" stroke-width="0.8" />
<path d="M309.2 387.9Q310.4 393.3 309.2 398.7" fill="none" stroke="#231f20" stroke-width="0.7" />
<line x1="315.8" y1="387.9" x2="315.8" y2="398.7" stroke="#231f20" stroke-width="0.8"/>
<line x1="334.8" y1="388.7" x2="334.8" y2="397.9" stroke="#231f20" stroke-width="0.8"/>
<line x1="339.7" y1="389.8" x2="339.7" y2="396.8" stroke="#231f20" stroke-width="0.7"/>
<rect x="305.2" y="382.9" width="42.3" height="20.8" fill="none" stroke="#231f20" stroke-width="1.0"/>
<path d="M357.6 378L305.2 378L305.2 408.7L357.6 408.7" fill="none" stroke="#231f20" stroke-width="1.25" />
<line x1="357.6" y1="378" x2="357.6" y2="408.7" stroke="#231f20" stroke-width="1.0"/>
<path d="M357.6 378Q359.2 378 359.2 380.2M357.6 408.7Q359.2 408.7 359.2 406.5" fill="none" stroke="#231f20" stroke-width="0.9" />
<line x1="359.2" y1="380.2" x2="359.2" y2="406.5" stroke="#4a4647" stroke-width="0.6"/>
<path d="M311.3 378L311.3 374.2L350.2 374.2L350.2 378" fill="none" stroke="#231f20" stroke-width="1.05" />
<line x1="315.9" y1="374.2" x2="315.9" y2="378" stroke="#231f20" stroke-width="0.8"/>
<line x1="345.6" y1="374.2" x2="345.6" y2="378" stroke="#231f20" stroke-width="0.8"/>
<line x1="297.9" y1="393.3" x2="365.6" y2="393.3" stroke="#2f2b2c" stroke-width="0.6"/>
<line x1="305.2" y1="361.2" x2="305.2" y2="374.2" stroke="#3a3637" stroke-width="0.62"/>
<line x1="311.3" y1="361.2" x2="311.3" y2="370.4" stroke="#3a3637" stroke-width="0.62"/>
<line x1="350.2" y1="361.2" x2="350.2" y2="370.4" stroke="#3a3637" stroke-width="0.62"/>
<line x1="287.1" y1="362.8" x2="305.2" y2="362.8" stroke="#3a3637" stroke-width="0.62"/>
<path d="M305.2 362.8L298.6 364.25L298.6 361.35Z" fill="#231f20"/>
<line x1="311.3" y1="362.8" x2="350.2" y2="362.8" stroke="#3a3637" stroke-width="0.62"/>
<path d="M311.3 362.8L318.1 361.3L318.1 364.3Z" fill="#231f20"/>
<path d="M350.2 362.8L343.4 364.3L343.4 361.3Z" fill="#231f20"/>
<g id="e1_S1" transform="translate(291.6 360.1) rotate(0) scale(0.86 1)">
<text x="0" y="0" font-family="Liberation Serif" font-size="15.5" fill="#231f20" stroke="#231f20" stroke-width="0.34">S1</text>
</g>
<g id="e1_S2" transform="translate(323.8 360.1) rotate(0) scale(0.86 1)">
<text x="0" y="0" font-family="Liberation Serif" font-size="15.5" fill="#231f20" stroke="#231f20" stroke-width="0.34">S2</text>
</g>
<line x1="286.1" y1="388.7" x2="305.2" y2="388.7" stroke="#3a3637" stroke-width="0.62"/>
<line x1="286.1" y1="397.9" x2="305.2" y2="397.9" stroke="#3a3637" stroke-width="0.62"/>
<line x1="286.9" y1="378.2" x2="286.9" y2="408.4" stroke="#3a3637" stroke-width="0.62"/>
<path d="M286.9 388.7L285.45 382.1L288.35 382.1Z" fill="#231f20"/>
<path d="M286.9 397.9L288.35 404.5L285.45 404.5Z" fill="#231f20"/>
<g id="e1_C" transform="translate(285 398.2) rotate(-90) scale(0.86 1)">
<text x="0" y="0" font-family="Liberation Serif" font-size="15.5" fill="#231f20" stroke="#231f20" stroke-width="0.34">C</text>
</g>
<line x1="305.2" y1="409.9" x2="305.2" y2="443.6" stroke="#3a3637" stroke-width="0.62"/>
<line x1="315.8" y1="404.3" x2="315.8" y2="428.3" stroke="#3a3637" stroke-width="0.62"/>
<line x1="334.8" y1="404.3" x2="334.8" y2="444.4" stroke="#3a3637" stroke-width="0.62"/>
<line x1="280.4" y1="425.9" x2="305.2" y2="425.9" stroke="#3a3637" stroke-width="0.62"/>
<path d="M305.2 425.9L298.6 427.35L298.6 424.45Z" fill="#231f20"/>
<line x1="315.8" y1="425.9" x2="326.5" y2="425.9" stroke="#3a3637" stroke-width="0.62"/>
<path d="M315.8 425.9L322.4 424.45L322.4 427.35Z" fill="#231f20"/>
<line x1="280.4" y1="443" x2="334.8" y2="443" stroke="#3a3637" stroke-width="0.62"/>
<path d="M305.2 443L311.8 441.55L311.8 444.45Z" fill="#231f20"/>
<path d="M334.8 443L328.2 444.45L328.2 441.55Z" fill="#231f20"/>
<g id="e1_S3" transform="translate(285 423.2) rotate(0) scale(0.86 1)">
<text x="0" y="0" font-family="Liberation Serif" font-size="15.5" fill="#231f20" stroke="#231f20" stroke-width="0.34">S3</text>
</g>
<g id="e1_S4" transform="translate(285 440.6) rotate(0) scale(0.86 1)">
<text x="0" y="0" font-family="Liberation Serif" font-size="15.5" fill="#231f20" stroke="#231f20" stroke-width="0.34">S4</text>
</g>
<circle cx="175.9" cy="735.3" r="45.5" fill="none" stroke="#4a4647" stroke-width="0.6"/>
<path d="M144 695.6L207.4 695.6L216 704.2L216 766.9L207.4 775.5L144 775.5L135.4 766.9L135.4 704.2Z" fill="none" stroke="#231f20" stroke-width="1.35" />
<line x1="150.9" y1="735.3" x2="200.9" y2="735.3" stroke="#9c999a" stroke-width="0.9"/>
<line x1="175.9" y1="711.3" x2="175.9" y2="760.3" stroke="#9c999a" stroke-width="0.9"/>
<circle cx="175.9" cy="735.3" r="32.9" fill="none" stroke="#231f20" stroke-width="1.3"/>
<circle cx="175.9" cy="735.3" r="22.7" fill="none" stroke="#231f20" stroke-width="1.4"/>
<rect x="186.5" y="731.8" width="3" height="7" fill="none" stroke="#231f20" stroke-width="1.1"/>
<circle cx="175.9" cy="735.3" r="11" fill="#fff" stroke="#231f20" stroke-width="1.75"/>
<line x1="165.9" y1="735.3" x2="185.9" y2="735.3" stroke="#9c999a" stroke-width="0.9"/>
<line x1="175.9" y1="725.3" x2="175.9" y2="745.3" stroke="#9c999a" stroke-width="0.9"/>
<circle cx="175.9" cy="735.3" r="4.15" fill="#fff" stroke="#2b2728" stroke-width="2.7"/>
<circle cx="175.9" cy="735.3" r="4.2" fill="none" stroke="#8a8687" stroke-width="0.5"/>
<line x1="174.7" y1="735.8" x2="177.1" y2="734.8" stroke="#231f20" stroke-width="0.7"/>
<circle cx="175.9" cy="702" r="4.5" fill="#fff" stroke="#231f20" stroke-width="1.45"/>
<circle cx="175.9" cy="702" r="2.1" fill="#fff" stroke="#231f20" stroke-width="0.95"/>
<circle cx="175.9" cy="768.6" r="4.5" fill="#fff" stroke="#231f20" stroke-width="1.45"/>
<circle cx="175.9" cy="768.6" r="2.1" fill="#fff" stroke="#231f20" stroke-width="0.95"/>
<circle cx="142.6" cy="735.3" r="4.5" fill="#fff" stroke="#231f20" stroke-width="1.45"/>
<circle cx="142.6" cy="735.3" r="2.1" fill="#fff" stroke="#231f20" stroke-width="0.95"/>
<circle cx="209.2" cy="735.3" r="4.5" fill="#fff" stroke="#231f20" stroke-width="1.45"/>
<circle cx="209.2" cy="735.3" r="2.1" fill="#fff" stroke="#231f20" stroke-width="0.95"/>
<circle cx="144.3" cy="703.6" r="3.9" fill="#8a8687" stroke="#231f20" stroke-width="1.1"/>
<circle cx="144.3" cy="703.6" r="2.3" fill="none" stroke="#3a3637" stroke-width="0.9"/>
<circle cx="144.3" cy="703.6" r="0.9" fill="#5a5657" stroke="#3a3637" stroke-width="0.6"/>
<circle cx="144.3" cy="767" r="3.9" fill="#8a8687" stroke="#231f20" stroke-width="1.1"/>
<circle cx="144.3" cy="767" r="2.3" fill="none" stroke="#3a3637" stroke-width="0.9"/>
<circle cx="144.3" cy="767" r="0.9" fill="#5a5657" stroke="#3a3637" stroke-width="0.6"/>
<circle cx="207.5" cy="703.6" r="3.9" fill="#8a8687" stroke="#231f20" stroke-width="1.1"/>
<circle cx="207.5" cy="703.6" r="2.3" fill="none" stroke="#3a3637" stroke-width="0.9"/>
<circle cx="207.5" cy="703.6" r="0.9" fill="#5a5657" stroke="#3a3637" stroke-width="0.6"/>
<circle cx="207.5" cy="767" r="3.9" fill="#8a8687" stroke="#231f20" stroke-width="1.1"/>
<circle cx="207.5" cy="767" r="2.3" fill="none" stroke="#3a3637" stroke-width="0.9"/>
<circle cx="207.5" cy="767" r="0.9" fill="#5a5657" stroke="#3a3637" stroke-width="0.6"/>
<line x1="88.5" y1="694.34" x2="214.9" y2="753.58" stroke="#231f20" stroke-width="0.65"/>
<path d="M141.1 718.99L135.8 718.05L136.99 715.51Z" fill="#231f20"/>
<path d="M214.9 753.58L209.6 752.64L210.79 750.1Z" fill="#231f20"/>
<g id="o2_D1" transform="translate(94.6 695.8) rotate(25.1) scale(0.86 1)">
<ellipse cx="6.04" cy="-4.67" rx="4.84" ry="4.37" fill="none" stroke="#231f20" stroke-width="0.85" transform="rotate(14 6.04 -4.67)"/>
<line x1="1.44" y1="1.22" x2="10.64" y2="-10.56" stroke="#231f20" stroke-width="0.85"/>
<text x="13.9" y="0" font-family="Liberation Serif" font-size="15.5" fill="#231f20" stroke="#231f20" stroke-width="0.34">D1</text>
</g>
<line x1="204.7" y1="683.2" x2="204.7" y2="700" stroke="#3a3637" stroke-width="0.62"/>
<line x1="211.4" y1="683.2" x2="211.4" y2="700" stroke="#3a3637" stroke-width="0.62"/>
<line x1="196.3" y1="686.3" x2="219.8" y2="686.3" stroke="#3a3637" stroke-width="0.62"/>
<path d="M204.7 686.3L198.3 687.9L198.3 684.7Z" fill="#231f20"/>
<path d="M211.4 686.3L217.8 684.7L217.8 687.9Z" fill="#231f20"/>
<g id="o2_D2" transform="translate(186.8 684.4) rotate(0) scale(0.86 1)">
<text x="0" y="0" font-family="Liberation Serif" font-size="15.5" fill="#231f20" stroke="#231f20" stroke-width="0.34">4-</text>
<ellipse cx="20.35" cy="-4.67" rx="4.84" ry="4.37" fill="none" stroke="#231f20" stroke-width="0.85" transform="rotate(14 20.35 -4.67)"/>
<line x1="15.75" y1="1.22" x2="24.95" y2="-10.56" stroke="#231f20" stroke-width="0.85"/>
<text x="29.37" y="0" font-family="Liberation Serif" font-size="15.5" fill="#231f20" stroke="#231f20" stroke-width="0.34">D2</text>
</g>
<line x1="135.4" y1="767.5" x2="135.4" y2="802.4" stroke="#3a3637" stroke-width="0.62"/>
<line x1="216" y1="767.5" x2="216" y2="802.4" stroke="#3a3637" stroke-width="0.62"/>
<line x1="135.4" y1="800.1" x2="216" y2="800.1" stroke="#3a3637" stroke-width="0.62"/>
<path d="M135.4 800.1L142.2 798.6L142.2 801.6Z" fill="#231f20"/>
<path d="M216 800.1L209.2 801.6L209.2 798.6Z" fill="#231f20"/>
<g id="o2_A1" transform="translate(165 798.1) rotate(0) scale(0.86 1)">
<rect x="0" y="-8.1" width="8.49" height="7.3" fill="none" stroke="#231f20" stroke-width="0.7"/>
<text x="11.51" y="0" font-family="Liberation Serif" font-size="15.5" fill="#231f20" stroke="#231f20" stroke-width="0.34">A1</text>
</g>
<line x1="348" y1="735.5" x2="537" y2="735.5" stroke="#8f8c8d" stroke-width="0.85" stroke-dasharray="169.5 3 3.5 3"/>
<path d="M388.2 725.3L352.7 725.3L351.8 726.2L351.8 744.8L352.7 745.7L386.5 745.7L388.2 746.5" fill="none" stroke="#231f20" stroke-width="1.3" />
<line x1="386.5" y1="725.3" x2="386.5" y2="745.7" stroke="#231f20" stroke-width="0.8"/>
<path d="M359.15 732.05L378.75 732.05A3.45 3.45 0 0 1 378.75 738.95L359.15 738.95A3.45 3.45 0 0 1 359.15 732.05Z" fill="#fff" stroke="#231f20" stroke-width="1.0" />
<line x1="356.7" y1="735.5" x2="381.2" y2="735.5" stroke="#4a4647" stroke-width="0.5"/>
<rect x="388.2" y="703.7" width="6.3" height="63.6" fill="none" stroke="#231f20" stroke-width="1.3"/>
<line x1="388.2" y1="730.7" x2="394.5" y2="730.7" stroke="#231f20" stroke-width="1.1"/>
<line x1="388.2" y1="740.3" x2="394.5" y2="740.3" stroke="#231f20" stroke-width="1.1"/>
<rect x="394.5" y="695.8" width="8.2" height="79.7" fill="none" stroke="#231f20" stroke-width="1.4"/>
<line x1="394.5" y1="703.7" x2="402.7" y2="703.7" stroke="#231f20" stroke-width="1.1"/>
<line x1="394.5" y1="767.3" x2="402.7" y2="767.3" stroke="#231f20" stroke-width="1.1"/>
<path d="M402.7 697.3L477.1 697.3M402.7 774L477.1 774" fill="none" stroke="#231f20" stroke-width="1.15" />
<line x1="411.6" y1="697.3" x2="411.6" y2="774" stroke="#231f20" stroke-width="1.0"/>
<line x1="449.8" y1="697.3" x2="449.8" y2="774" stroke="#231f20" stroke-width="1.0"/>
<rect x="477.1" y="695.9" width="50.9" height="79.4" fill="none" stroke="#231f20" stroke-width="1.25"/>
<line x1="498.5" y1="695.9" x2="498.5" y2="775.3" stroke="#231f20" stroke-width="1.1"/>
<line x1="477.1" y1="704.2" x2="528" y2="704.2" stroke="#231f20" stroke-width="0.95"/>
<line x1="477.1" y1="766.7" x2="528" y2="766.7" stroke="#231f20" stroke-width="0.95"/>
<path d="M528 706.2L515.1 706.2L515.1 726.5" fill="none" stroke="#5a5657" stroke-width="0.75" stroke-dasharray="3.2 1.8"/>
<path d="M528 764.7L515.1 764.7L515.1 745" fill="none" stroke="#5a5657" stroke-width="0.75" stroke-dasharray="3.2 1.8"/>
<path d="M515.1 726.5L469.7 726.5L469.7 745L515.1 745" fill="none" stroke="#5a5657" stroke-width="0.75" stroke-dasharray="3.2 1.8"/>
<circle cx="511.2" cy="722.6" r="4.5" fill="#fff" stroke="#2b2728" stroke-width="2.3"/>
<circle cx="511.2" cy="722.6" r="3.45" fill="none" stroke="#d8d6d7" stroke-width="0.45"/>
<circle cx="511.2" cy="722.6" r="2.2" fill="none" stroke="#2b2728" stroke-width="0.8"/>
<line x1="351.8" y1="664" x2="351.8" y2="721.3" stroke="#3a3637" stroke-width="0.62"/>
<line x1="394.5" y1="664" x2="394.5" y2="692.2" stroke="#3a3637" stroke-width="0.62"/>
<line x1="528" y1="664" x2="528" y2="692.6" stroke="#3a3637" stroke-width="0.62"/>
<line x1="351.8" y1="665.8" x2="394.5" y2="665.8" stroke="#3a3637" stroke-width="0.62"/>
<path d="M351.8 665.8L358.6 664.3L358.6 667.3Z" fill="#231f20"/>
<path d="M394.5 665.8L387.7 667.3L387.7 664.3Z" fill="#231f20"/>
<line x1="394.5" y1="665.8" x2="528" y2="665.8" stroke="#3a3637" stroke-width="0.62"/>
<path d="M394.5 665.8L401.3 664.3L401.3 667.3Z" fill="#231f20"/>
<path d="M528 665.8L521.2 667.3L521.2 664.3Z" fill="#231f20"/>
<g id="s2_L2" transform="translate(365.8 664) rotate(0) scale(0.86 1)">
<text x="0" y="0" font-family="Liberation Serif" font-size="15.5" fill="#231f20" stroke="#231f20" stroke-width="0.34">L2</text>
</g>
<g id="s2_L5" transform="translate(454.4 663.7) rotate(0) scale(0.86 1)">
<text x="0" y="0" font-family="Liberation Serif" font-size="15.5" fill="#231f20" stroke="#231f20" stroke-width="0.34">L5</text>
</g>
<line x1="386.5" y1="686.1" x2="386.5" y2="720.5" stroke="#3a3637" stroke-width="0.62"/>
<line x1="351.8" y1="687.9" x2="386.5" y2="687.9" stroke="#3a3637" stroke-width="0.62"/>
<path d="M351.8 687.9L358.6 686.4L358.6 689.4Z" fill="#231f20"/>
<path d="M386.5 687.9L379.7 689.4L379.7 686.4Z" fill="#231f20"/>
<g id="s2_L1" transform="translate(362.4 686.2) rotate(0) scale(0.86 1)">
<text x="0" y="0" font-family="Liberation Serif" font-size="15.5" fill="#231f20" stroke="#231f20" stroke-width="0.34">L1</text>
</g>
<line x1="388.2" y1="770.9" x2="388.2" y2="798.6" stroke="#3a3637" stroke-width="0.62"/>
<line x1="394.5" y1="779.3" x2="394.5" y2="818.4" stroke="#3a3637" stroke-width="0.62"/>
<line x1="402.7" y1="779.3" x2="402.7" y2="818.4" stroke="#3a3637" stroke-width="0.62"/>
<line x1="360.9" y1="796.8" x2="388.2" y2="796.8" stroke="#3a3637" stroke-width="0.62"/>
<path d="M388.2 796.8L381.6 798.25L381.6 795.35Z" fill="#231f20"/>
<line x1="394.5" y1="796.8" x2="406.1" y2="796.8" stroke="#3a3637" stroke-width="0.62"/>
<path d="M394.5 796.8L401.1 795.35L401.1 798.25Z" fill="#231f20"/>
<line x1="360.9" y1="816.8" x2="394.5" y2="816.8" stroke="#3a3637" stroke-width="0.62"/>
<path d="M394.5 816.8L387.9 818.25L387.9 815.35Z" fill="#231f20"/>
<line x1="402.7" y1="816.8" x2="412.9" y2="816.8" stroke="#3a3637" stroke-width="0.62"/>
<path d="M402.7 816.8L409.3 815.35L409.3 818.25Z" fill="#231f20"/>
<g id="s2_L3" transform="translate(364.9 795.1) rotate(0) scale(0.86 1)">
<text x="0" y="0" font-family="Liberation Serif" font-size="15.5" fill="#231f20" stroke="#231f20" stroke-width="0.34">L3</text>
</g>
<g id="s2_L4" transform="translate(364.9 815.2) rotate(0) scale(0.86 1)">
<text x="0" y="0" font-family="Liberation Serif" font-size="15.5" fill="#231f20" stroke="#231f20" stroke-width="0.34">L</text>
<text x="8.77" y="0" font-family="Liberation Serif" font-size="15.5" fill="#231f20" stroke="#231f20" stroke-width="0.34"><tspan font-style="italic">4</tspan></text>
</g>
<line x1="457.2" y1="697.3" x2="457.2" y2="823.7" stroke="#3a3637" stroke-width="0.62"/>
<path d="M457.2 697.3L458.7 704.1L455.7 704.1Z" fill="#231f20"/>
<path d="M457.2 774L455.7 767.2L458.7 767.2Z" fill="#231f20"/>
<g id="s2_D5" transform="translate(455.6 816.2) rotate(-90) scale(0.86 1)">
<ellipse cx="6.04" cy="-4.67" rx="4.84" ry="4.37" fill="none" stroke="#231f20" stroke-width="0.85" transform="rotate(14 6.04 -4.67)"/>
<line x1="1.44" y1="1.22" x2="10.64" y2="-10.56" stroke="#231f20" stroke-width="0.85"/>
<text x="13.9" y="0" font-family="Liberation Serif" font-size="15.5" fill="#231f20" stroke="#231f20" stroke-width="0.34">D5</text>
</g>
<line x1="303.3" y1="703.7" x2="383.9" y2="703.7" stroke="#3a3637" stroke-width="0.62"/>
<line x1="303.3" y1="767.3" x2="383.9" y2="767.3" stroke="#3a3637" stroke-width="0.62"/>
<line x1="304.9" y1="703.7" x2="304.9" y2="767.3" stroke="#3a3637" stroke-width="0.62"/>
<path d="M304.9 703.7L306.4 710.5L303.4 710.5Z" fill="#231f20"/>
<path d="M304.9 767.3L303.4 760.5L306.4 760.5Z" fill="#231f20"/>
<g id="s2_D4" transform="translate(303.3 755) rotate(-90) scale(0.86 1)">
<ellipse cx="6.04" cy="-4.67" rx="4.84" ry="4.37" fill="none" stroke="#231f20" stroke-width="0.85" transform="rotate(14 6.04 -4.67)"/>
<line x1="1.44" y1="1.22" x2="10.64" y2="-10.56" stroke="#231f20" stroke-width="0.85"/>
<text x="13.9" y="0" font-family="Liberation Serif" font-size="15.5" fill="#231f20" stroke="#231f20" stroke-width="0.34">D4</text>
<text x="38.66" y="0" font-family="Liberation Serif" font-size="10.54" fill="#231f20" stroke="#231f20" stroke-width="0.34">g6</text>
</g>
<line x1="334.2" y1="725.3" x2="348.4" y2="725.3" stroke="#3a3637" stroke-width="0.62"/>
<line x1="334.2" y1="745.7" x2="348.4" y2="745.7" stroke="#3a3637" stroke-width="0.62"/>
<line x1="335.2" y1="725.3" x2="335.2" y2="745.7" stroke="#3a3637" stroke-width="0.62"/>
<path d="M335.2 725.3L336.65 731.3L333.75 731.3Z" fill="#231f20"/>
<path d="M335.2 745.7L333.75 739.7L336.65 739.7Z" fill="#231f20"/>
<g id="s2_D3" transform="translate(334 757.6) rotate(-90) scale(0.86 1)">
<ellipse cx="6.04" cy="-4.67" rx="4.84" ry="4.37" fill="none" stroke="#231f20" stroke-width="0.85" transform="rotate(14 6.04 -4.67)"/>
<line x1="1.44" y1="1.22" x2="10.64" y2="-10.56" stroke="#231f20" stroke-width="0.85"/>
<text x="13.9" y="0" font-family="Liberation Serif" font-size="15.5" fill="#231f20" stroke="#231f20" stroke-width="0.34">D3</text>
<text x="35.64" y="0" font-family="Liberation Serif" font-size="15.5" fill="#231f20" stroke="#231f20" stroke-width="0.34">g6</text>
</g>
<line x1="531.3" y1="706.2" x2="591.8" y2="706.2" stroke="#3a3637" stroke-width="0.62"/>
<line x1="531.3" y1="764.7" x2="591.8" y2="764.7" stroke="#3a3637" stroke-width="0.62"/>
<line x1="589.3" y1="706.2" x2="589.3" y2="764.7" stroke="#3a3637" stroke-width="0.62"/>
<path d="M589.3 706.2L590.8 713L587.8 713Z" fill="#231f20"/>
<path d="M589.3 764.7L587.8 757.9L590.8 757.9Z" fill="#231f20"/>
<g id="s2_D7" transform="translate(587.8 755.8) rotate(-90) scale(0.86 1)">
<ellipse cx="6.04" cy="-4.67" rx="4.84" ry="4.37" fill="none" stroke="#231f20" stroke-width="0.85" transform="rotate(14 6.04 -4.67)"/>
<line x1="1.44" y1="1.22" x2="10.64" y2="-10.56" stroke="#231f20" stroke-width="0.85"/>
<text x="13.9" y="0" font-family="Liberation Serif" font-size="15.5" fill="#231f20" stroke="#231f20" stroke-width="0.34">D7</text>
<text x="37.5" y="0" font-family="Liberation Serif" font-size="10.54" fill="#231f20" stroke="#231f20" stroke-width="0.34">G6</text>
</g>
<line x1="519" y1="726.5" x2="564.5" y2="726.5" stroke="#3a3637" stroke-width="0.62"/>
<line x1="519" y1="745" x2="564.5" y2="745" stroke="#3a3637" stroke-width="0.62"/>
<line x1="562.5" y1="726.5" x2="562.5" y2="823.7" stroke="#3a3637" stroke-width="0.62"/>
<path d="M562.5 726.5L563.95 732.5L561.05 732.5Z" fill="#231f20"/>
<path d="M562.5 745L561.05 739L563.95 739Z" fill="#231f20"/>
<g id="s2_D6" transform="translate(561 817.2) rotate(-90) scale(0.86 1)">
<ellipse cx="6.04" cy="-4.67" rx="4.84" ry="4.37" fill="none" stroke="#231f20" stroke-width="0.85" transform="rotate(14 6.04 -4.67)"/>
<line x1="1.44" y1="1.22" x2="10.64" y2="-10.56" stroke="#231f20" stroke-width="0.85"/>
<text x="13.9" y="0" font-family="Liberation Serif" font-size="15.5" fill="#231f20" stroke="#231f20" stroke-width="0.34">D6</text>
<text x="37.5" y="0" font-family="Liberation Serif" font-size="10.54" fill="#231f20" stroke="#231f20" stroke-width="0.34">G6</text>
</g>
<line x1="515.1" y1="768.3" x2="515.1" y2="798.9" stroke="#3a3637" stroke-width="0.62"/>
<line x1="528" y1="778.9" x2="528" y2="818.4" stroke="#3a3637" stroke-width="0.62"/>
<line x1="487.8" y1="796.7" x2="515.1" y2="796.7" stroke="#3a3637" stroke-width="0.62"/>
<path d="M515.1 796.7L508.5 798.15L508.5 795.25Z" fill="#231f20"/>
<line x1="528" y1="796.7" x2="538.5" y2="796.7" stroke="#3a3637" stroke-width="0.62"/>
<path d="M528 796.7L534.6 795.25L534.6 798.15Z" fill="#231f20"/>
<g id="s2_L6" transform="translate(491.5 795.4) rotate(0) scale(0.86 1)">
<text x="0" y="0" font-family="Liberation Serif" font-size="15.5" fill="#231f20" stroke="#231f20" stroke-width="0.34">L6</text>
</g>
<line x1="469.7" y1="748.6" x2="469.7" y2="818.4" stroke="#3a3637" stroke-width="0.62"/>
<line x1="469.7" y1="817.2" x2="528" y2="817.2" stroke="#3a3637" stroke-width="0.62"/>
<path d="M469.7 817.2L476.5 815.7L476.5 818.7Z" fill="#231f20"/>
<path d="M528 817.2L521.2 818.7L521.2 815.7Z" fill="#231f20"/>
<g id="s2_L7" transform="translate(491.5 814.9) rotate(0) scale(0.86 1)">
<text x="0" y="0" font-family="Liberation Serif" font-size="15.5" fill="#231f20" stroke="#231f20" stroke-width="0.34">L7</text>
</g>
<circle cx="696.6" cy="735.4" r="45.3" fill="none" stroke="#4a4647" stroke-width="0.6"/>
<path d="M664.5 695.4L729.3 695.4L737.2 703.3L737.2 767.4L729.3 775.3L664.5 775.3L656.6 767.4L656.6 703.3Z" fill="none" stroke="#231f20" stroke-width="1.2" />
<line x1="664.6" y1="735.4" x2="729.6" y2="735.4" stroke="#6e6b6c" stroke-width="0.7"/>
<line x1="696.6" y1="702.9" x2="696.6" y2="768.9" stroke="#6e6b6c" stroke-width="0.7"/>
<circle cx="696.6" cy="735.4" r="32.7" fill="none" stroke="#231f20" stroke-width="1.55"/>
<circle cx="696.6" cy="735.4" r="23.8" fill="none" stroke="#231f20" stroke-width="1.5"/>
<circle cx="696.6" cy="735.4" r="18.9" fill="none" stroke="#231f20" stroke-width="1.05"/>
<line x1="684.4" y1="717.9" x2="695.4" y2="717.9" stroke="#231f20" stroke-width="0.95"/>
<line x1="697.8" y1="717.9" x2="709.4" y2="717.9" stroke="#231f20" stroke-width="0.95"/>
<path d="M684.4 717.9L686.8 719.8L684.4 719.8Z" fill="#6a6667" stroke="#231f20" stroke-width="0.7" />
<path d="M709.4 717.9L707 719.8L709.4 719.8Z" fill="#6a6667" stroke="#231f20" stroke-width="0.7" />
<line x1="695.4" y1="717.9" x2="695.4" y2="726.5" stroke="#231f20" stroke-width="1.0"/>
<line x1="697.8" y1="717.9" x2="697.8" y2="726.5" stroke="#231f20" stroke-width="1.0"/>
<line x1="684.4" y1="752.9" x2="695.4" y2="752.9" stroke="#231f20" stroke-width="0.95"/>
<line x1="697.8" y1="752.9" x2="709.4" y2="752.9" stroke="#231f20" stroke-width="0.95"/>
<path d="M684.4 752.9L686.8 751L684.4 751Z" fill="#6a6667" stroke="#231f20" stroke-width="0.7" />
<path d="M709.4 752.9L707 751L709.4 751Z" fill="#6a6667" stroke="#231f20" stroke-width="0.7" />
<line x1="695.4" y1="752.9" x2="695.4" y2="744.3" stroke="#231f20" stroke-width="1.0"/>
<line x1="697.8" y1="752.9" x2="697.8" y2="744.3" stroke="#231f20" stroke-width="1.0"/>
<circle cx="696.6" cy="735.4" r="9" fill="none" stroke="#231f20" stroke-width="1.1"/>
<circle cx="664.6" cy="704" r="2" fill="#c9c6c7" stroke="#231f20" stroke-width="0.9"/>
<circle cx="664.6" cy="704" r="0.8" fill="#3a3637" stroke="#3a3637" stroke-width="0.5"/>
<circle cx="664.6" cy="766.8" r="2" fill="#c9c6c7" stroke="#231f20" stroke-width="0.9"/>
<circle cx="664.6" cy="766.8" r="0.8" fill="#3a3637" stroke="#3a3637" stroke-width="0.5"/>
<circle cx="728.6" cy="704" r="2" fill="#c9c6c7" stroke="#231f20" stroke-width="0.9"/>
<circle cx="728.6" cy="704" r="0.8" fill="#3a3637" stroke="#3a3637" stroke-width="0.5"/>
<circle cx="728.6" cy="766.8" r="2" fill="#c9c6c7" stroke="#231f20" stroke-width="0.9"/>
<circle cx="728.6" cy="766.8" r="0.8" fill="#3a3637" stroke="#3a3637" stroke-width="0.5"/>
<line x1="612.1" y1="682.33" x2="734.3" y2="759.08" stroke="#231f20" stroke-width="0.65"/>
<path d="M665.8 716.06L660.65 714.48L662.14 712.11Z" fill="#231f20"/>
<path d="M734.3 759.08L729.15 757.5L730.64 755.12Z" fill="#231f20"/>
<g id="i2_D8" transform="translate(620.4 684.2) rotate(32.1) scale(0.86 1)">
<ellipse cx="6.04" cy="-4.67" rx="4.84" ry="4.37" fill="none" stroke="#231f20" stroke-width="0.85" transform="rotate(14 6.04 -4.67)"/>
<line x1="1.44" y1="1.22" x2="10.64" y2="-10.56" stroke="#231f20" stroke-width="0.85"/>
<text x="13.9" y="0" font-family="Liberation Serif" font-size="15.5" font-style="italic" fill="#231f20" stroke="#231f20" stroke-width="0.34">D8</text>
</g>
<line x1="726.9" y1="681.6" x2="726.9" y2="701.3" stroke="#3a3637" stroke-width="0.62"/>
<line x1="729.9" y1="681.6" x2="729.9" y2="701.3" stroke="#3a3637" stroke-width="0.62"/>
<line x1="715.2" y1="682.7" x2="740.5" y2="682.7" stroke="#3a3637" stroke-width="0.62"/>
<path d="M726.9 682.7L720.5 684.3L720.5 681.1Z" fill="#231f20"/>
<path d="M729.9 682.7L736.3 681.1L736.3 684.3Z" fill="#231f20"/>
<g id="i2_D9" transform="translate(717.3 680.8) rotate(0) scale(0.86 1)">
<text x="0" y="0" font-family="Liberation Serif" font-size="15.5" fill="#231f20" stroke="#231f20" stroke-width="0.34">4-D9</text>
</g>
<line x1="656.6" y1="767.3" x2="656.6" y2="801.2" stroke="#3a3637" stroke-width="0.62"/>
<line x1="737.2" y1="767.3" x2="737.2" y2="801.2" stroke="#3a3637" stroke-width="0.62"/>
<line x1="656.6" y1="799.4" x2="737.2" y2="799.4" stroke="#3a3637" stroke-width="0.62"/>
<path d="M656.6 799.4L663.4 797.9L663.4 800.9Z" fill="#231f20"/>
<path d="M737.2 799.4L730.4 800.9L730.4 797.9Z" fill="#231f20"/>
<g id="i2_A2" transform="translate(685.1 797.9) rotate(0) scale(0.86 1)">
<rect x="0" y="-8.1" width="8.49" height="7.3" fill="none" stroke="#231f20" stroke-width="0.7"/>
<text x="11.51" y="0" font-family="Liberation Serif" font-size="15.5" fill="#231f20" stroke="#231f20" stroke-width="0.34">A2</text>
</g>
<rect x="213" y="838.2" width="45.9" height="50.3" fill="none" stroke="#4a4647" stroke-width="0.8" stroke-dasharray="14 3 3 3"/>
<line x1="218.6" y1="863.5" x2="254.1" y2="863.5" stroke="#4a4647" stroke-width="0.5"/>
<line x1="235.6" y1="846.5" x2="235.6" y2="881.5" stroke="#4a4647" stroke-width="0.5"/>
<circle cx="235.6" cy="863.5" r="16.3" fill="none" stroke="#231f20" stroke-width="1.9"/>
<path d="M230.5 849.1L230.5 844L240.9 844L240.9 849.1" fill="none" stroke="#231f20" stroke-width="1.25" />
<line x1="230.5" y1="848.3" x2="240.9" y2="848.3" stroke="#4a4647" stroke-width="0.6"/>
<circle cx="235.6" cy="863.5" r="8.1" fill="none" stroke="#3a3637" stroke-width="0.65"/>
<circle cx="235.6" cy="863.5" r="5" fill="none" stroke="#2b2728" stroke-width="2.9"/>
<circle cx="235.6" cy="863.5" r="0.6" fill="#8a8687" stroke="#8a8687" stroke-width="0.4"/>
<line x1="230.5" y1="822.3" x2="230.5" y2="841" stroke="#3a3637" stroke-width="0.62"/>
<line x1="240.9" y1="822.3" x2="240.9" y2="841" stroke="#3a3637" stroke-width="0.62"/>
<line x1="219.7" y1="824.3" x2="230.5" y2="824.3" stroke="#3a3637" stroke-width="0.62"/>
<path d="M230.5 824.3L224.5 825.75L224.5 822.85Z" fill="#231f20"/>
<line x1="240.9" y1="824.3" x2="251.5" y2="824.3" stroke="#3a3637" stroke-width="0.62"/>
<path d="M240.9 824.3L246.9 822.85L246.9 825.75Z" fill="#231f20"/>
<g id="k2_B" transform="translate(231.5 822.3) rotate(0) scale(0.86 1)">
<text x="0" y="0" font-family="Liberation Serif" font-size="15.5" fill="#231f20" stroke="#231f20" stroke-width="0.34">B</text>
</g>
<line x1="201.5" y1="843.8" x2="227.4" y2="843.8" stroke="#3a3637" stroke-width="0.62"/>
<line x1="201.5" y1="878.5" x2="227.4" y2="878.5" stroke="#3a3637" stroke-width="0.62"/>
<line x1="203.7" y1="843.8" x2="203.7" y2="878.5" stroke="#3a3637" stroke-width="0.62"/>
<path d="M203.7 843.8L205.2 850.6L202.2 850.6Z" fill="#231f20"/>
<path d="M203.7 878.5L202.2 871.7L205.2 871.7Z" fill="#231f20"/>
<g id="k2_H" transform="translate(201.2 867.2) rotate(-90) scale(0.86 1)">
<text x="0" y="0" font-family="Liberation Serif" font-size="15.5" fill="#231f20" stroke="#231f20" stroke-width="0.34">H</text>
</g>
<defs><clipPath id="clipe2"><path d="M303 853.2L345.2 853.2L345.2 874L303 874Z"/></clipPath></defs>
<g clip-path="url(#clipe2)">
<line x1="272.5" y1="875" x2="295.3" y2="852.2" stroke="#2f2b2c" stroke-width="1.15"/>
<line x1="279.5" y1="875" x2="302.3" y2="852.2" stroke="#2f2b2c" stroke-width="1.15"/>
<line x1="286.5" y1="875" x2="309.3" y2="852.2" stroke="#2f2b2c" stroke-width="1.15"/>
<line x1="293.5" y1="875" x2="316.3" y2="852.2" stroke="#2f2b2c" stroke-width="1.15"/>
<line x1="300.5" y1="875" x2="323.3" y2="852.2" stroke="#2f2b2c" stroke-width="1.15"/>
<line x1="307.5" y1="875" x2="330.3" y2="852.2" stroke="#2f2b2c" stroke-width="1.15"/>
<line x1="314.5" y1="875" x2="337.3" y2="852.2" stroke="#2f2b2c" stroke-width="1.15"/>
<line x1="321.5" y1="875" x2="344.3" y2="852.2" stroke="#2f2b2c" stroke-width="1.15"/>
<line x1="328.5" y1="875" x2="351.3" y2="852.2" stroke="#2f2b2c" stroke-width="1.15"/>
<line x1="335.5" y1="875" x2="358.3" y2="852.2" stroke="#2f2b2c" stroke-width="1.15"/>
<line x1="342.5" y1="875" x2="365.3" y2="852.2" stroke="#2f2b2c" stroke-width="1.15"/>
<line x1="349.5" y1="875" x2="372.3" y2="852.2" stroke="#2f2b2c" stroke-width="1.15"/>
</g>
<path d="M303 854L307 858.6L312.9 858.6L312.9 859.4L332.1 859.4L332.1 860.5L337 860.5L339.8 864L337 867.5L332.1 867.5L332.1 868.6L312.9 868.6L312.9 869.4L307 869.4L303 873.2Z" fill="#fff" stroke="#231f20" stroke-width="0.8" />
<path d="M307 858.6Q308.2 864 307 869.4" fill="none" stroke="#231f20" stroke-width="0.7" />
<line x1="312.9" y1="858.6" x2="312.9" y2="869.4" stroke="#231f20" stroke-width="0.8"/>
<line x1="332.1" y1="859.4" x2="332.1" y2="868.6" stroke="#231f20" stroke-width="0.8"/>
<line x1="337" y1="860.5" x2="337" y2="867.5" stroke="#231f20" stroke-width="0.7"/>
<rect x="303" y="853.2" width="42.2" height="20.8" fill="none" stroke="#231f20" stroke-width="1.0"/>
<path d="M354.6 848L303 848L303 878.7L354.6 878.7" fill="none" stroke="#231f20" stroke-width="1.25" />
<line x1="354.6" y1="848" x2="354.6" y2="878.7" stroke="#231f20" stroke-width="1.0"/>
<path d="M354.6 848Q356.2 848 356.2 850.2M354.6 878.7Q356.2 878.7 356.2 876.5" fill="none" stroke="#231f20" stroke-width="0.9" />
<line x1="356.2" y1="850.2" x2="356.2" y2="876.5" stroke="#4a4647" stroke-width="0.6"/>
<path d="M308.9 848L308.9 844.2L347.1 844.2L347.1 848" fill="none" stroke="#231f20" stroke-width="1.05" />
<line x1="313.5" y1="844.2" x2="313.5" y2="848" stroke="#231f20" stroke-width="0.8"/>
<line x1="342.5" y1="844.2" x2="342.5" y2="848" stroke="#231f20" stroke-width="0.8"/>
<line x1="295.2" y1="864" x2="363.6" y2="864" stroke="#2f2b2c" stroke-width="0.6"/>
<line x1="303" y1="829.5" x2="303" y2="844.2" stroke="#3a3637" stroke-width="0.62"/>
<line x1="308.9" y1="829.5" x2="308.9" y2="840.4" stroke="#3a3637" stroke-width="0.62"/>
<line x1="347.1" y1="829.5" x2="347.1" y2="840.4" stroke="#3a3637" stroke-width="0.62"/>
<line x1="280.6" y1="831.1" x2="303" y2="831.1" stroke="#3a3637" stroke-width="0.62"/>
<path d="M303 831.1L296.4 832.55L296.4 829.65Z" fill="#231f20"/>
<line x1="308.9" y1="831.1" x2="347.1" y2="831.1" stroke="#3a3637" stroke-width="0.62"/>
<path d="M308.9 831.1L315.7 829.6L315.7 832.6Z" fill="#231f20"/>
<path d="M347.1 831.1L340.3 832.6L340.3 829.6Z" fill="#231f20"/>
<g id="e2_S1" transform="translate(284.9 828.5) rotate(0) scale(0.86 1)">
<text x="0" y="0" font-family="Liberation Serif" font-size="15.5" fill="#231f20" stroke="#231f20" stroke-width="0.34">S1</text>
</g>
<g id="e2_S2" transform="translate(321.1 828.5) rotate(0) scale(0.86 1)">
<text x="0" y="0" font-family="Liberation Serif" font-size="15.5" fill="#231f20" stroke="#231f20" stroke-width="0.34">S2</text>
</g>
<line x1="286.3" y1="859.4" x2="303" y2="859.4" stroke="#3a3637" stroke-width="0.62"/>
<line x1="286.3" y1="868.6" x2="303" y2="868.6" stroke="#3a3637" stroke-width="0.62"/>
<line x1="287.1" y1="848.2" x2="287.1" y2="878.4" stroke="#3a3637" stroke-width="0.62"/>
<path d="M287.1 859.4L285.65 852.8L288.55 852.8Z" fill="#231f20"/>
<path d="M287.1 868.6L288.55 875.2L285.65 875.2Z" fill="#231f20"/>
<g id="e2_C" transform="translate(285.1 868.6) rotate(-90) scale(0.86 1)">
<text x="0" y="0" font-family="Liberation Serif" font-size="15.5" fill="#231f20" stroke="#231f20" stroke-width="0.34">C</text>
</g>
<line x1="303" y1="879.9" x2="303" y2="920" stroke="#3a3637" stroke-width="0.62"/>
<line x1="312.9" y1="874.6" x2="312.9" y2="900.3" stroke="#3a3637" stroke-width="0.62"/>
<line x1="332.1" y1="874.6" x2="332.1" y2="918.4" stroke="#3a3637" stroke-width="0.62"/>
<line x1="274.4" y1="897.9" x2="303" y2="897.9" stroke="#3a3637" stroke-width="0.62"/>
<path d="M303 897.9L296.4 899.35L296.4 896.45Z" fill="#231f20"/>
<line x1="312.9" y1="897.9" x2="323.6" y2="897.9" stroke="#3a3637" stroke-width="0.62"/>
<path d="M312.9 897.9L319.5 896.45L319.5 899.35Z" fill="#231f20"/>
<line x1="274.4" y1="917" x2="332.1" y2="917" stroke="#3a3637" stroke-width="0.62"/>
<path d="M303 917L309.6 915.55L309.6 918.45Z" fill="#231f20"/>
<path d="M332.1 917L325.5 918.45L325.5 915.55Z" fill="#231f20"/>
<g id="e2_S3" transform="translate(279 895.9) rotate(0) scale(0.86 1)">
<text x="0" y="0" font-family="Liberation Serif" font-size="15.5" fill="#231f20" stroke="#231f20" stroke-width="0.34">S3</text>
</g>
<g id="e2_S4" transform="translate(279 914.6) rotate(0) scale(0.86 1)">
<text x="0" y="0" font-family="Liberation Serif" font-size="15.5" fill="#231f20" stroke="#231f20" stroke-width="0.34">S4</text>
</g>
</svg>
<div id="frame"></div>
</body></html>
